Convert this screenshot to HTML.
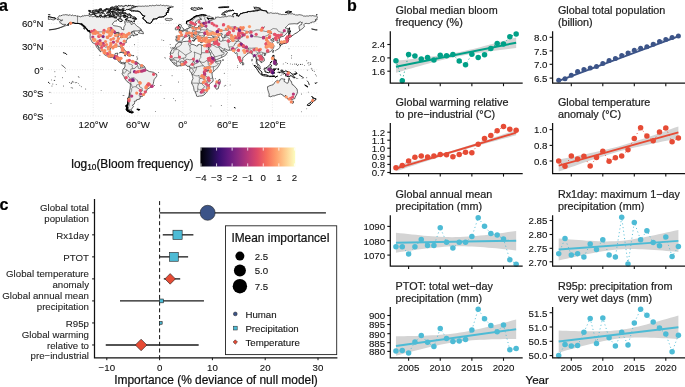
<!DOCTYPE html>
<html><head><meta charset="utf-8"><style>
html,body{margin:0;padding:0;background:#fff;}
svg{display:block;will-change:transform;}
text{font-family:"Liberation Sans", sans-serif;stroke:currentColor;stroke-width:0.22px;}
</style></head><body>
<svg width="685" height="387" viewBox="0 0 685 387">
<rect width="685" height="387" fill="#fff"/>
<polygon points="395.95,60.80 399.95,60.35 403.96,59.90 407.97,59.44 411.97,58.98 415.98,58.51 419.99,58.04 424.00,57.56 428.00,57.06 432.01,56.55 436.02,56.02 440.02,55.46 444.03,54.86 448.04,54.22 452.05,53.52 456.05,52.75 460.06,51.92 464.07,51.04 468.07,50.12 472.08,49.16 476.09,48.17 480.10,47.16 484.10,46.12 488.11,45.07 492.12,44.01 496.12,42.94 500.13,41.86 504.14,40.78 508.14,39.69 512.15,38.60 516.16,37.50 516.16,47.90 512.15,48.41 508.14,48.92 504.14,49.44 500.13,49.96 496.12,50.49 492.12,51.03 488.11,51.57 484.10,52.13 480.10,52.70 476.09,53.29 472.08,53.91 468.07,54.56 464.07,55.24 460.06,55.97 456.05,56.75 452.05,57.59 448.04,58.49 444.03,59.46 440.02,60.47 436.02,61.52 432.01,62.59 428.00,63.69 424.00,64.80 419.99,65.92 415.98,67.05 411.97,68.19 407.97,69.34 403.96,70.49 399.95,71.64 395.95,72.80" fill="#d4d4d4"/>
<polyline points="395.95,60.70 402.27,80.70 408.60,54.60 414.93,56.00 421.25,59.10 427.58,57.60 433.91,60.10 440.24,55.20 446.56,55.80 452.89,54.60 459.22,61.10 465.54,64.80 471.87,54.20 478.20,57.60 484.52,54.80 490.85,48.40 497.18,43.50 503.50,43.90 509.83,36.80 516.16,34.10" fill="none" stroke="#00A087" stroke-width="0.9" stroke-dasharray="0.3 3.4" stroke-linecap="round"/>
<line x1="395.95" y1="66.8" x2="516.16" y2="42.7" stroke="#00A087" stroke-width="1.9"/>
<circle cx="395.95" cy="60.7" r="2.75" fill="#00A087"/>
<circle cx="402.27" cy="80.7" r="2.75" fill="#00A087"/>
<circle cx="408.60" cy="54.6" r="2.75" fill="#00A087"/>
<circle cx="414.93" cy="56.0" r="2.75" fill="#00A087"/>
<circle cx="421.25" cy="59.1" r="2.75" fill="#00A087"/>
<circle cx="427.58" cy="57.6" r="2.75" fill="#00A087"/>
<circle cx="433.91" cy="60.1" r="2.75" fill="#00A087"/>
<circle cx="440.24" cy="55.2" r="2.75" fill="#00A087"/>
<circle cx="446.56" cy="55.8" r="2.75" fill="#00A087"/>
<circle cx="452.89" cy="54.6" r="2.75" fill="#00A087"/>
<circle cx="459.22" cy="61.1" r="2.75" fill="#00A087"/>
<circle cx="465.54" cy="64.8" r="2.75" fill="#00A087"/>
<circle cx="471.87" cy="54.2" r="2.75" fill="#00A087"/>
<circle cx="478.20" cy="57.6" r="2.75" fill="#00A087"/>
<circle cx="484.52" cy="54.8" r="2.75" fill="#00A087"/>
<circle cx="490.85" cy="48.4" r="2.75" fill="#00A087"/>
<circle cx="497.18" cy="43.5" r="2.75" fill="#00A087"/>
<circle cx="503.50" cy="43.9" r="2.75" fill="#00A087"/>
<circle cx="509.83" cy="36.8" r="2.75" fill="#00A087"/>
<circle cx="516.16" cy="34.1" r="2.75" fill="#00A087"/>
<path d="M390.3,31.3 V83.2 H522.7" fill="none" stroke="#111" stroke-width="1.25"/>
<line x1="387.3" y1="44.5" x2="390.3" y2="44.5" stroke="#111" stroke-width="1.1"/>
<text transform="translate(385.10 48.30) scale(1 1.0)" font-size="9.7" text-anchor="end" fill="#111" color="#111" style="stroke-width:0.1px" >2.4</text>
<line x1="387.3" y1="57.9" x2="390.3" y2="57.9" stroke="#111" stroke-width="1.1"/>
<text transform="translate(385.10 61.70) scale(1 1.0)" font-size="9.7" text-anchor="end" fill="#111" color="#111" style="stroke-width:0.1px" >2.0</text>
<line x1="387.3" y1="71.2" x2="390.3" y2="71.2" stroke="#111" stroke-width="1.1"/>
<text transform="translate(385.10 75.00) scale(1 1.0)" font-size="9.7" text-anchor="end" fill="#111" color="#111" style="stroke-width:0.1px" >1.6</text>
<line x1="408.60" y1="83.2" x2="408.60" y2="86.2" stroke="#111" stroke-width="1.1"/>
<line x1="440.24" y1="83.2" x2="440.24" y2="86.2" stroke="#111" stroke-width="1.1"/>
<line x1="471.87" y1="83.2" x2="471.87" y2="86.2" stroke="#111" stroke-width="1.1"/>
<line x1="503.50" y1="83.2" x2="503.50" y2="86.2" stroke="#111" stroke-width="1.1"/>
<text x="395.60" y="14.30" font-size="10.8" text-anchor="start" fill="#1e1e1e" color="#1e1e1e" font-weight="normal" >Global median bloom</text>
<text x="395.60" y="26.10" font-size="10.8" text-anchor="start" fill="#1e1e1e" color="#1e1e1e" font-weight="normal" >frequency (%)</text>
<polygon points="558.70,80.00 562.69,78.56 566.68,77.11 570.67,75.67 574.66,74.22 578.65,72.77 582.64,71.32 586.63,69.87 590.62,68.42 594.61,66.96 598.60,65.50 602.59,64.04 606.58,62.58 610.57,61.11 614.56,59.63 618.55,58.15 622.54,56.66 626.53,55.17 630.52,53.68 634.51,52.18 638.50,50.67 642.49,49.16 646.48,47.65 650.47,46.14 654.46,44.62 658.45,43.11 662.44,41.59 666.43,40.07 670.42,38.55 674.41,37.02 678.40,35.50 678.40,37.10 674.41,38.54 670.42,39.99 666.43,41.43 662.44,42.88 658.45,44.33 654.46,45.78 650.47,47.23 646.48,48.68 642.49,50.14 638.50,51.60 634.51,53.06 630.52,54.52 626.53,55.99 622.54,57.47 618.55,58.95 614.56,60.44 610.57,61.93 606.58,63.42 602.59,64.92 598.60,66.43 594.61,67.94 590.62,69.45 586.63,70.96 582.64,72.48 578.65,73.99 574.66,75.51 570.67,77.03 566.68,78.55 562.69,80.08 558.70,81.60" fill="#d4d4d4"/>
<polyline points="558.70,80.20 565.00,78.80 571.30,75.30 577.60,71.60 583.90,69.40 590.20,68.00 596.50,66.40 602.80,63.50 609.10,60.50 615.40,58.50 621.70,55.60 628.00,53.00 634.30,50.30 640.60,48.30 646.90,46.70 653.20,44.20 659.50,41.40 665.80,39.40 672.10,37.50 678.40,35.90" fill="none" stroke="#3C5488" stroke-width="0.9" stroke-dasharray="0.3 3.4" stroke-linecap="round"/>
<line x1="558.70" y1="80.8" x2="678.40" y2="36.3" stroke="#3C5488" stroke-width="1.9"/>
<circle cx="558.70" cy="80.2" r="2.5" fill="#3C5488"/>
<circle cx="565.00" cy="78.8" r="2.5" fill="#3C5488"/>
<circle cx="571.30" cy="75.3" r="2.5" fill="#3C5488"/>
<circle cx="577.60" cy="71.6" r="2.5" fill="#3C5488"/>
<circle cx="583.90" cy="69.4" r="2.5" fill="#3C5488"/>
<circle cx="590.20" cy="68.0" r="2.5" fill="#3C5488"/>
<circle cx="596.50" cy="66.4" r="2.5" fill="#3C5488"/>
<circle cx="602.80" cy="63.5" r="2.5" fill="#3C5488"/>
<circle cx="609.10" cy="60.5" r="2.5" fill="#3C5488"/>
<circle cx="615.40" cy="58.5" r="2.5" fill="#3C5488"/>
<circle cx="621.70" cy="55.6" r="2.5" fill="#3C5488"/>
<circle cx="628.00" cy="53.0" r="2.5" fill="#3C5488"/>
<circle cx="634.30" cy="50.3" r="2.5" fill="#3C5488"/>
<circle cx="640.60" cy="48.3" r="2.5" fill="#3C5488"/>
<circle cx="646.90" cy="46.7" r="2.5" fill="#3C5488"/>
<circle cx="653.20" cy="44.2" r="2.5" fill="#3C5488"/>
<circle cx="659.50" cy="41.4" r="2.5" fill="#3C5488"/>
<circle cx="665.80" cy="39.4" r="2.5" fill="#3C5488"/>
<circle cx="672.10" cy="37.5" r="2.5" fill="#3C5488"/>
<circle cx="678.40" cy="35.9" r="2.5" fill="#3C5488"/>
<path d="M552.6,31.3 V83.2 H685.5" fill="none" stroke="#111" stroke-width="1.25"/>
<line x1="549.6" y1="37.3" x2="552.6" y2="37.3" stroke="#111" stroke-width="1.1"/>
<text transform="translate(547.40 41.10) scale(1 1.0)" font-size="9.7" text-anchor="end" fill="#111" color="#111" style="stroke-width:0.1px" >8.0</text>
<line x1="549.6" y1="50.9" x2="552.6" y2="50.9" stroke="#111" stroke-width="1.1"/>
<text transform="translate(547.40 54.70) scale(1 1.0)" font-size="9.7" text-anchor="end" fill="#111" color="#111" style="stroke-width:0.1px" >7.5</text>
<line x1="549.6" y1="64.3" x2="552.6" y2="64.3" stroke="#111" stroke-width="1.1"/>
<text transform="translate(547.40 68.10) scale(1 1.0)" font-size="9.7" text-anchor="end" fill="#111" color="#111" style="stroke-width:0.1px" >7.0</text>
<line x1="549.6" y1="78.1" x2="552.6" y2="78.1" stroke="#111" stroke-width="1.1"/>
<text transform="translate(547.40 81.90) scale(1 1.0)" font-size="9.7" text-anchor="end" fill="#111" color="#111" style="stroke-width:0.1px" >6.5</text>
<line x1="571.30" y1="83.2" x2="571.30" y2="86.2" stroke="#111" stroke-width="1.1"/>
<line x1="602.80" y1="83.2" x2="602.80" y2="86.2" stroke="#111" stroke-width="1.1"/>
<line x1="634.30" y1="83.2" x2="634.30" y2="86.2" stroke="#111" stroke-width="1.1"/>
<line x1="665.80" y1="83.2" x2="665.80" y2="86.2" stroke="#111" stroke-width="1.1"/>
<text x="557.90" y="14.30" font-size="10.8" text-anchor="start" fill="#1e1e1e" color="#1e1e1e" font-weight="normal" >Global total population</text>
<text x="557.90" y="26.10" font-size="10.8" text-anchor="start" fill="#1e1e1e" color="#1e1e1e" font-weight="normal" >(billion)</text>
<polygon points="395.95,166.10 399.95,165.04 403.96,163.97 407.97,162.90 411.97,161.83 415.98,160.75 419.99,159.67 424.00,158.58 428.00,157.49 432.01,156.39 436.02,155.27 440.02,154.15 444.03,153.01 448.04,151.86 452.05,150.69 456.05,149.50 460.06,148.29 464.07,147.06 468.07,145.81 472.08,144.55 476.09,143.27 480.10,141.99 484.10,140.69 488.11,139.38 492.12,138.07 496.12,136.75 500.13,135.43 504.14,134.10 508.14,132.77 512.15,131.44 516.16,130.10 516.16,135.30 512.15,136.36 508.14,137.43 504.14,138.50 500.13,139.57 496.12,140.65 492.12,141.73 488.11,142.82 484.10,143.91 480.10,145.01 476.09,146.13 472.08,147.25 468.07,148.39 464.07,149.54 460.06,150.71 456.05,151.90 452.05,153.11 448.04,154.34 444.03,155.59 440.02,156.85 436.02,158.13 432.01,159.41 428.00,160.71 424.00,162.02 419.99,163.33 415.98,164.65 411.97,165.97 407.97,167.30 403.96,168.63 399.95,169.96 395.95,171.30" fill="#d4d4d4"/>
<polyline points="395.95,167.70 402.27,165.40 408.60,160.90 414.93,157.20 421.25,156.00 427.58,157.00 433.91,156.00 440.24,154.60 446.56,154.80 452.89,156.80 459.22,154.40 465.54,152.30 471.87,152.70 478.20,144.20 484.52,138.40 490.85,135.40 497.18,130.70 503.50,126.60 509.83,129.20 516.16,130.30" fill="none" stroke="#E64B35" stroke-width="0.9" stroke-dasharray="0.3 3.4" stroke-linecap="round"/>
<line x1="395.95" y1="168.7" x2="516.16" y2="132.7" stroke="#E64B35" stroke-width="1.9"/>
<circle cx="395.95" cy="167.7" r="2.75" fill="#E64B35"/>
<circle cx="402.27" cy="165.4" r="2.75" fill="#E64B35"/>
<circle cx="408.60" cy="160.9" r="2.75" fill="#E64B35"/>
<circle cx="414.93" cy="157.2" r="2.75" fill="#E64B35"/>
<circle cx="421.25" cy="156.0" r="2.75" fill="#E64B35"/>
<circle cx="427.58" cy="157.0" r="2.75" fill="#E64B35"/>
<circle cx="433.91" cy="156.0" r="2.75" fill="#E64B35"/>
<circle cx="440.24" cy="154.6" r="2.75" fill="#E64B35"/>
<circle cx="446.56" cy="154.8" r="2.75" fill="#E64B35"/>
<circle cx="452.89" cy="156.8" r="2.75" fill="#E64B35"/>
<circle cx="459.22" cy="154.4" r="2.75" fill="#E64B35"/>
<circle cx="465.54" cy="152.3" r="2.75" fill="#E64B35"/>
<circle cx="471.87" cy="152.7" r="2.75" fill="#E64B35"/>
<circle cx="478.20" cy="144.2" r="2.75" fill="#E64B35"/>
<circle cx="484.52" cy="138.4" r="2.75" fill="#E64B35"/>
<circle cx="490.85" cy="135.4" r="2.75" fill="#E64B35"/>
<circle cx="497.18" cy="130.7" r="2.75" fill="#E64B35"/>
<circle cx="503.50" cy="126.6" r="2.75" fill="#E64B35"/>
<circle cx="509.83" cy="129.2" r="2.75" fill="#E64B35"/>
<circle cx="516.16" cy="130.3" r="2.75" fill="#E64B35"/>
<path d="M390.3,123.1 V173.6 H522.7" fill="none" stroke="#111" stroke-width="1.25"/>
<line x1="387.3" y1="132.2" x2="390.3" y2="132.2" stroke="#111" stroke-width="1.1"/>
<text transform="translate(385.10 136.00) scale(1 1.0)" font-size="9.7" text-anchor="end" fill="#111" color="#111" style="stroke-width:0.1px" >1.2</text>
<line x1="387.3" y1="140.2" x2="390.3" y2="140.2" stroke="#111" stroke-width="1.1"/>
<text transform="translate(385.10 144.00) scale(1 1.0)" font-size="9.7" text-anchor="end" fill="#111" color="#111" style="stroke-width:0.1px" >1.1</text>
<line x1="387.3" y1="148.2" x2="390.3" y2="148.2" stroke="#111" stroke-width="1.1"/>
<text transform="translate(385.10 152.00) scale(1 1.0)" font-size="9.7" text-anchor="end" fill="#111" color="#111" style="stroke-width:0.1px" >1.0</text>
<line x1="387.3" y1="156.3" x2="390.3" y2="156.3" stroke="#111" stroke-width="1.1"/>
<text transform="translate(385.10 160.10) scale(1 1.0)" font-size="9.7" text-anchor="end" fill="#111" color="#111" style="stroke-width:0.1px" >0.9</text>
<line x1="387.3" y1="164.4" x2="390.3" y2="164.4" stroke="#111" stroke-width="1.1"/>
<text transform="translate(385.10 168.20) scale(1 1.0)" font-size="9.7" text-anchor="end" fill="#111" color="#111" style="stroke-width:0.1px" >0.8</text>
<line x1="387.3" y1="172.5" x2="390.3" y2="172.5" stroke="#111" stroke-width="1.1"/>
<text transform="translate(385.10 176.30) scale(1 1.0)" font-size="9.7" text-anchor="end" fill="#111" color="#111" style="stroke-width:0.1px" >0.7</text>
<line x1="408.60" y1="173.6" x2="408.60" y2="176.6" stroke="#111" stroke-width="1.1"/>
<line x1="440.24" y1="173.6" x2="440.24" y2="176.6" stroke="#111" stroke-width="1.1"/>
<line x1="471.87" y1="173.6" x2="471.87" y2="176.6" stroke="#111" stroke-width="1.1"/>
<line x1="503.50" y1="173.6" x2="503.50" y2="176.6" stroke="#111" stroke-width="1.1"/>
<text x="395.60" y="106.10" font-size="10.8" text-anchor="start" fill="#1e1e1e" color="#1e1e1e" font-weight="normal" >Global warming relative</text>
<text x="395.60" y="117.90" font-size="10.8" text-anchor="start" fill="#1e1e1e" color="#1e1e1e" font-weight="normal" >to pre−industrial (°C)</text>
<polygon points="558.70,159.60 562.69,158.82 566.68,158.03 570.67,157.23 574.66,156.43 578.65,155.62 582.64,154.80 586.63,153.97 590.62,153.12 594.61,152.26 598.60,151.37 602.59,150.45 606.58,149.50 610.57,148.52 614.56,147.48 618.55,146.40 622.54,145.27 626.53,144.09 630.52,142.86 634.51,141.60 638.50,140.30 642.49,138.98 646.48,137.63 650.47,136.26 654.46,134.88 658.45,133.49 662.44,132.08 666.43,130.67 670.42,129.25 674.41,127.83 678.40,126.40 678.40,138.40 674.41,139.18 670.42,139.97 666.43,140.77 662.44,141.57 658.45,142.38 654.46,143.20 650.47,144.03 646.48,144.88 642.49,145.74 638.50,146.63 634.51,147.55 630.52,148.50 626.53,149.48 622.54,150.52 618.55,151.60 614.56,152.73 610.57,153.91 606.58,155.14 602.59,156.40 598.60,157.70 594.61,159.02 590.62,160.37 586.63,161.74 582.64,163.12 578.65,164.51 574.66,165.92 570.67,167.33 566.68,168.75 562.69,170.17 558.70,171.60" fill="#d4d4d4"/>
<polyline points="558.70,161.00 565.00,166.30 571.30,155.90 577.60,159.10 583.90,156.30 590.20,166.10 596.50,157.50 602.80,151.20 609.10,161.20 615.40,157.70 621.70,155.90 628.00,149.80 634.30,138.40 640.60,127.70 646.90,136.10 653.20,140.70 659.50,131.90 665.80,127.90 672.10,141.70 678.40,137.90" fill="none" stroke="#E64B35" stroke-width="0.9" stroke-dasharray="0.3 3.4" stroke-linecap="round"/>
<line x1="558.70" y1="165.6" x2="678.40" y2="132.4" stroke="#E64B35" stroke-width="1.9"/>
<circle cx="558.70" cy="161.0" r="2.75" fill="#E64B35"/>
<circle cx="565.00" cy="166.3" r="2.75" fill="#E64B35"/>
<circle cx="571.30" cy="155.9" r="2.75" fill="#E64B35"/>
<circle cx="577.60" cy="159.1" r="2.75" fill="#E64B35"/>
<circle cx="583.90" cy="156.3" r="2.75" fill="#E64B35"/>
<circle cx="590.20" cy="166.1" r="2.75" fill="#E64B35"/>
<circle cx="596.50" cy="157.5" r="2.75" fill="#E64B35"/>
<circle cx="602.80" cy="151.2" r="2.75" fill="#E64B35"/>
<circle cx="609.10" cy="161.2" r="2.75" fill="#E64B35"/>
<circle cx="615.40" cy="157.7" r="2.75" fill="#E64B35"/>
<circle cx="621.70" cy="155.9" r="2.75" fill="#E64B35"/>
<circle cx="628.00" cy="149.8" r="2.75" fill="#E64B35"/>
<circle cx="634.30" cy="138.4" r="2.75" fill="#E64B35"/>
<circle cx="640.60" cy="127.7" r="2.75" fill="#E64B35"/>
<circle cx="646.90" cy="136.1" r="2.75" fill="#E64B35"/>
<circle cx="653.20" cy="140.7" r="2.75" fill="#E64B35"/>
<circle cx="659.50" cy="131.9" r="2.75" fill="#E64B35"/>
<circle cx="665.80" cy="127.9" r="2.75" fill="#E64B35"/>
<circle cx="672.10" cy="141.7" r="2.75" fill="#E64B35"/>
<circle cx="678.40" cy="137.9" r="2.75" fill="#E64B35"/>
<path d="M552.6,123.1 V173.6 H685.5" fill="none" stroke="#111" stroke-width="1.25"/>
<line x1="549.6" y1="129.6" x2="552.6" y2="129.6" stroke="#111" stroke-width="1.1"/>
<text transform="translate(547.40 133.40) scale(1 1.0)" font-size="9.7" text-anchor="end" fill="#111" color="#111" style="stroke-width:0.1px" >1.0</text>
<line x1="549.6" y1="145.4" x2="552.6" y2="145.4" stroke="#111" stroke-width="1.1"/>
<text transform="translate(547.40 149.20) scale(1 1.0)" font-size="9.7" text-anchor="end" fill="#111" color="#111" style="stroke-width:0.1px" >0.8</text>
<line x1="549.6" y1="161.0" x2="552.6" y2="161.0" stroke="#111" stroke-width="1.1"/>
<text transform="translate(547.40 164.80) scale(1 1.0)" font-size="9.7" text-anchor="end" fill="#111" color="#111" style="stroke-width:0.1px" >0.6</text>
<line x1="571.30" y1="173.6" x2="571.30" y2="176.6" stroke="#111" stroke-width="1.1"/>
<line x1="602.80" y1="173.6" x2="602.80" y2="176.6" stroke="#111" stroke-width="1.1"/>
<line x1="634.30" y1="173.6" x2="634.30" y2="176.6" stroke="#111" stroke-width="1.1"/>
<line x1="665.80" y1="173.6" x2="665.80" y2="176.6" stroke="#111" stroke-width="1.1"/>
<text x="557.90" y="106.10" font-size="10.8" text-anchor="start" fill="#1e1e1e" color="#1e1e1e" font-weight="normal" >Global temperature</text>
<text x="557.90" y="117.90" font-size="10.8" text-anchor="start" fill="#1e1e1e" color="#1e1e1e" font-weight="normal" >anomaly (°C)</text>
<polygon points="395.95,232.70 399.95,233.16 403.96,233.60 407.97,234.04 411.97,234.46 415.98,234.87 419.99,235.26 424.00,235.63 428.00,235.98 432.01,236.29 436.02,236.56 440.02,236.79 444.03,236.97 448.04,237.08 452.05,237.13 456.05,237.10 460.06,237.00 464.07,236.83 468.07,236.59 472.08,236.30 476.09,235.96 480.10,235.57 484.10,235.15 488.11,234.69 492.12,234.21 496.12,233.71 500.13,233.20 504.14,232.66 508.14,232.12 512.15,231.56 516.16,231.00 516.16,250.40 512.15,249.97 508.14,249.55 504.14,249.14 500.13,248.74 496.12,248.35 492.12,247.99 488.11,247.64 484.10,247.32 480.10,247.03 476.09,246.78 472.08,246.57 468.07,246.41 464.07,246.31 460.06,246.27 456.05,246.30 452.05,246.40 448.04,246.58 444.03,246.83 440.02,247.14 436.02,247.50 432.01,247.91 428.00,248.36 424.00,248.84 419.99,249.34 415.98,249.86 411.97,250.41 407.97,250.96 403.96,251.53 399.95,252.11 395.95,252.70" fill="#d4d4d4"/>
<polyline points="395.95,246.80 402.27,246.80 408.60,253.90 414.93,246.80 421.25,239.60 427.58,245.40 433.91,245.40 440.24,227.80 446.56,242.30 452.89,248.00 459.22,242.30 465.54,242.30 471.87,236.60 478.20,217.80 484.52,226.30 490.85,233.50 497.18,235.10 503.50,239.00 509.83,259.70 516.16,264.20" fill="none" stroke="#4DBBD5" stroke-width="0.9" stroke-dasharray="0.3 3.4" stroke-linecap="round"/>
<line x1="395.95" y1="242.7" x2="516.16" y2="240.7" stroke="#4DBBD5" stroke-width="1.9"/>
<circle cx="395.95" cy="246.8" r="2.75" fill="#4DBBD5"/>
<circle cx="402.27" cy="246.8" r="2.75" fill="#4DBBD5"/>
<circle cx="408.60" cy="253.9" r="2.75" fill="#4DBBD5"/>
<circle cx="414.93" cy="246.8" r="2.75" fill="#4DBBD5"/>
<circle cx="421.25" cy="239.6" r="2.75" fill="#4DBBD5"/>
<circle cx="427.58" cy="245.4" r="2.75" fill="#4DBBD5"/>
<circle cx="433.91" cy="245.4" r="2.75" fill="#4DBBD5"/>
<circle cx="440.24" cy="227.8" r="2.75" fill="#4DBBD5"/>
<circle cx="446.56" cy="242.3" r="2.75" fill="#4DBBD5"/>
<circle cx="452.89" cy="248.0" r="2.75" fill="#4DBBD5"/>
<circle cx="459.22" cy="242.3" r="2.75" fill="#4DBBD5"/>
<circle cx="465.54" cy="242.3" r="2.75" fill="#4DBBD5"/>
<circle cx="471.87" cy="236.6" r="2.75" fill="#4DBBD5"/>
<circle cx="478.20" cy="217.8" r="2.75" fill="#4DBBD5"/>
<circle cx="484.52" cy="226.3" r="2.75" fill="#4DBBD5"/>
<circle cx="490.85" cy="233.5" r="2.75" fill="#4DBBD5"/>
<circle cx="497.18" cy="235.1" r="2.75" fill="#4DBBD5"/>
<circle cx="503.50" cy="239.0" r="2.75" fill="#4DBBD5"/>
<circle cx="509.83" cy="259.7" r="2.75" fill="#4DBBD5"/>
<circle cx="516.16" cy="264.2" r="2.75" fill="#4DBBD5"/>
<path d="M390.3,215.3 V266.0 H522.7" fill="none" stroke="#111" stroke-width="1.25"/>
<line x1="387.3" y1="226.4" x2="390.3" y2="226.4" stroke="#111" stroke-width="1.1"/>
<text transform="translate(385.10 230.20) scale(1 1.0)" font-size="9.7" text-anchor="end" fill="#111" color="#111" style="stroke-width:0.1px" >1090</text>
<line x1="387.3" y1="240.7" x2="390.3" y2="240.7" stroke="#111" stroke-width="1.1"/>
<text transform="translate(385.10 244.50) scale(1 1.0)" font-size="9.7" text-anchor="end" fill="#111" color="#111" style="stroke-width:0.1px" >1080</text>
<line x1="387.3" y1="255.1" x2="390.3" y2="255.1" stroke="#111" stroke-width="1.1"/>
<text transform="translate(385.10 258.90) scale(1 1.0)" font-size="9.7" text-anchor="end" fill="#111" color="#111" style="stroke-width:0.1px" >1070</text>
<line x1="408.60" y1="266.0" x2="408.60" y2="269.0" stroke="#111" stroke-width="1.1"/>
<line x1="440.24" y1="266.0" x2="440.24" y2="269.0" stroke="#111" stroke-width="1.1"/>
<line x1="471.87" y1="266.0" x2="471.87" y2="269.0" stroke="#111" stroke-width="1.1"/>
<line x1="503.50" y1="266.0" x2="503.50" y2="269.0" stroke="#111" stroke-width="1.1"/>
<text x="395.60" y="198.30" font-size="10.8" text-anchor="start" fill="#1e1e1e" color="#1e1e1e" font-weight="normal" >Global annual mean</text>
<text x="395.60" y="210.10" font-size="10.8" text-anchor="start" fill="#1e1e1e" color="#1e1e1e" font-weight="normal" >precipitation (mm)</text>
<polygon points="558.70,238.50 562.69,238.84 566.68,239.17 570.67,239.49 574.66,239.80 578.65,240.09 582.64,240.37 586.63,240.63 590.62,240.87 594.61,241.07 598.60,241.24 602.59,241.35 606.58,241.39 610.57,241.36 614.56,241.23 618.55,241.00 622.54,240.66 626.53,240.21 630.52,239.67 634.51,239.05 638.50,238.37 642.49,237.63 646.48,236.86 650.47,236.05 654.46,235.21 658.45,234.36 662.44,233.49 666.43,232.61 670.42,231.71 674.41,230.81 678.40,229.90 678.40,251.90 674.41,251.56 670.42,251.23 666.43,250.91 662.44,250.60 658.45,250.31 654.46,250.03 650.47,249.77 646.48,249.53 642.49,249.33 638.50,249.16 634.51,249.05 630.52,249.01 626.53,249.04 622.54,249.17 618.55,249.40 614.56,249.74 610.57,250.19 606.58,250.73 602.59,251.35 598.60,252.03 594.61,252.77 590.62,253.54 586.63,254.35 582.64,255.19 578.65,256.04 574.66,256.91 570.67,257.79 566.68,258.69 562.69,259.59 558.70,260.50" fill="#d4d4d4"/>
<polyline points="558.70,253.70 565.00,238.50 571.30,254.90 577.60,253.70 583.90,256.90 590.20,243.90 596.50,249.50 602.80,239.70 609.10,254.90 615.40,256.90 621.70,217.30 628.00,264.00 634.30,222.50 640.60,239.70 646.90,230.80 653.20,242.60 659.50,245.80 665.80,237.00 672.10,256.40 678.40,246.60" fill="none" stroke="#4DBBD5" stroke-width="0.9" stroke-dasharray="0.3 3.4" stroke-linecap="round"/>
<line x1="558.70" y1="249.5" x2="678.40" y2="240.9" stroke="#4DBBD5" stroke-width="1.9"/>
<circle cx="558.70" cy="253.7" r="2.75" fill="#4DBBD5"/>
<circle cx="565.00" cy="238.5" r="2.75" fill="#4DBBD5"/>
<circle cx="571.30" cy="254.9" r="2.75" fill="#4DBBD5"/>
<circle cx="577.60" cy="253.7" r="2.75" fill="#4DBBD5"/>
<circle cx="583.90" cy="256.9" r="2.75" fill="#4DBBD5"/>
<circle cx="590.20" cy="243.9" r="2.75" fill="#4DBBD5"/>
<circle cx="596.50" cy="249.5" r="2.75" fill="#4DBBD5"/>
<circle cx="602.80" cy="239.7" r="2.75" fill="#4DBBD5"/>
<circle cx="609.10" cy="254.9" r="2.75" fill="#4DBBD5"/>
<circle cx="615.40" cy="256.9" r="2.75" fill="#4DBBD5"/>
<circle cx="621.70" cy="217.3" r="2.75" fill="#4DBBD5"/>
<circle cx="628.00" cy="264.0" r="2.75" fill="#4DBBD5"/>
<circle cx="634.30" cy="222.5" r="2.75" fill="#4DBBD5"/>
<circle cx="640.60" cy="239.7" r="2.75" fill="#4DBBD5"/>
<circle cx="646.90" cy="230.8" r="2.75" fill="#4DBBD5"/>
<circle cx="653.20" cy="242.6" r="2.75" fill="#4DBBD5"/>
<circle cx="659.50" cy="245.8" r="2.75" fill="#4DBBD5"/>
<circle cx="665.80" cy="237.0" r="2.75" fill="#4DBBD5"/>
<circle cx="672.10" cy="256.4" r="2.75" fill="#4DBBD5"/>
<circle cx="678.40" cy="246.6" r="2.75" fill="#4DBBD5"/>
<path d="M552.6,215.3 V266.0 H685.5" fill="none" stroke="#111" stroke-width="1.25"/>
<line x1="549.6" y1="220.5" x2="552.6" y2="220.5" stroke="#111" stroke-width="1.1"/>
<text transform="translate(547.40 224.30) scale(1 1.0)" font-size="9.7" text-anchor="end" fill="#111" color="#111" style="stroke-width:0.1px" >2.85</text>
<line x1="549.6" y1="234.5" x2="552.6" y2="234.5" stroke="#111" stroke-width="1.1"/>
<text transform="translate(547.40 238.30) scale(1 1.0)" font-size="9.7" text-anchor="end" fill="#111" color="#111" style="stroke-width:0.1px" >2.80</text>
<line x1="549.6" y1="248.3" x2="552.6" y2="248.3" stroke="#111" stroke-width="1.1"/>
<text transform="translate(547.40 252.10) scale(1 1.0)" font-size="9.7" text-anchor="end" fill="#111" color="#111" style="stroke-width:0.1px" >2.75</text>
<line x1="549.6" y1="261.8" x2="552.6" y2="261.8" stroke="#111" stroke-width="1.1"/>
<text transform="translate(547.40 265.60) scale(1 1.0)" font-size="9.7" text-anchor="end" fill="#111" color="#111" style="stroke-width:0.1px" >2.70</text>
<line x1="571.30" y1="266.0" x2="571.30" y2="269.0" stroke="#111" stroke-width="1.1"/>
<line x1="602.80" y1="266.0" x2="602.80" y2="269.0" stroke="#111" stroke-width="1.1"/>
<line x1="634.30" y1="266.0" x2="634.30" y2="269.0" stroke="#111" stroke-width="1.1"/>
<line x1="665.80" y1="266.0" x2="665.80" y2="269.0" stroke="#111" stroke-width="1.1"/>
<text x="557.90" y="198.30" font-size="10.8" text-anchor="start" fill="#1e1e1e" color="#1e1e1e" font-weight="normal" >Rx1day: maximum 1−day</text>
<text x="557.90" y="210.10" font-size="10.8" text-anchor="start" fill="#1e1e1e" color="#1e1e1e" font-weight="normal" >precipitation (mm)</text>
<polygon points="395.95,336.30 399.95,336.25 403.96,336.19 407.97,336.12 411.97,336.04 415.98,335.95 419.99,335.84 424.00,335.71 428.00,335.55 432.01,335.36 436.02,335.14 440.02,334.87 444.03,334.55 448.04,334.17 452.05,333.72 456.05,333.20 460.06,332.60 464.07,331.93 468.07,331.19 472.08,330.39 476.09,329.54 480.10,328.64 484.10,327.71 488.11,326.75 492.12,325.76 496.12,324.75 500.13,323.72 504.14,322.68 508.14,321.63 512.15,320.57 516.16,319.50 516.16,338.90 512.15,338.95 508.14,339.01 504.14,339.08 500.13,339.16 496.12,339.25 492.12,339.36 488.11,339.49 484.10,339.65 480.10,339.84 476.09,340.06 472.08,340.33 468.07,340.65 464.07,341.03 460.06,341.48 456.05,342.00 452.05,342.60 448.04,343.27 444.03,344.01 440.02,344.81 436.02,345.66 432.01,346.56 428.00,347.49 424.00,348.45 419.99,349.44 415.98,350.45 411.97,351.48 407.97,352.52 403.96,353.57 399.95,354.63 395.95,355.70" fill="#d4d4d4"/>
<polyline points="395.95,351.10 402.27,350.50 408.60,353.10 414.93,341.90 421.25,335.40 427.58,342.30 433.91,346.60 440.24,328.60 446.56,338.40 452.89,341.50 459.22,340.90 465.54,339.40 471.87,330.00 478.20,309.20 484.52,318.80 490.85,325.50 497.18,331.70 503.50,325.10 509.83,349.70 516.16,348.60" fill="none" stroke="#4DBBD5" stroke-width="0.9" stroke-dasharray="0.3 3.4" stroke-linecap="round"/>
<line x1="395.95" y1="346.0" x2="516.16" y2="329.2" stroke="#4DBBD5" stroke-width="1.9"/>
<circle cx="395.95" cy="351.1" r="2.75" fill="#4DBBD5"/>
<circle cx="402.27" cy="350.5" r="2.75" fill="#4DBBD5"/>
<circle cx="408.60" cy="353.1" r="2.75" fill="#4DBBD5"/>
<circle cx="414.93" cy="341.9" r="2.75" fill="#4DBBD5"/>
<circle cx="421.25" cy="335.4" r="2.75" fill="#4DBBD5"/>
<circle cx="427.58" cy="342.3" r="2.75" fill="#4DBBD5"/>
<circle cx="433.91" cy="346.6" r="2.75" fill="#4DBBD5"/>
<circle cx="440.24" cy="328.6" r="2.75" fill="#4DBBD5"/>
<circle cx="446.56" cy="338.4" r="2.75" fill="#4DBBD5"/>
<circle cx="452.89" cy="341.5" r="2.75" fill="#4DBBD5"/>
<circle cx="459.22" cy="340.9" r="2.75" fill="#4DBBD5"/>
<circle cx="465.54" cy="339.4" r="2.75" fill="#4DBBD5"/>
<circle cx="471.87" cy="330.0" r="2.75" fill="#4DBBD5"/>
<circle cx="478.20" cy="309.2" r="2.75" fill="#4DBBD5"/>
<circle cx="484.52" cy="318.8" r="2.75" fill="#4DBBD5"/>
<circle cx="490.85" cy="325.5" r="2.75" fill="#4DBBD5"/>
<circle cx="497.18" cy="331.7" r="2.75" fill="#4DBBD5"/>
<circle cx="503.50" cy="325.1" r="2.75" fill="#4DBBD5"/>
<circle cx="509.83" cy="349.7" r="2.75" fill="#4DBBD5"/>
<circle cx="516.16" cy="348.6" r="2.75" fill="#4DBBD5"/>
<path d="M390.3,307.0 V357.8 H522.7" fill="none" stroke="#111" stroke-width="1.25"/>
<line x1="387.3" y1="315.5" x2="390.3" y2="315.5" stroke="#111" stroke-width="1.1"/>
<text transform="translate(385.10 319.30) scale(1 1.0)" font-size="9.7" text-anchor="end" fill="#111" color="#111" style="stroke-width:0.1px" >900</text>
<line x1="387.3" y1="324.5" x2="390.3" y2="324.5" stroke="#111" stroke-width="1.1"/>
<text transform="translate(385.10 328.30) scale(1 1.0)" font-size="9.7" text-anchor="end" fill="#111" color="#111" style="stroke-width:0.1px" >895</text>
<line x1="387.3" y1="333.7" x2="390.3" y2="333.7" stroke="#111" stroke-width="1.1"/>
<text transform="translate(385.10 337.50) scale(1 1.0)" font-size="9.7" text-anchor="end" fill="#111" color="#111" style="stroke-width:0.1px" >890</text>
<line x1="387.3" y1="342.7" x2="390.3" y2="342.7" stroke="#111" stroke-width="1.1"/>
<text transform="translate(385.10 346.50) scale(1 1.0)" font-size="9.7" text-anchor="end" fill="#111" color="#111" style="stroke-width:0.1px" >885</text>
<line x1="387.3" y1="351.4" x2="390.3" y2="351.4" stroke="#111" stroke-width="1.1"/>
<text transform="translate(385.10 355.20) scale(1 1.0)" font-size="9.7" text-anchor="end" fill="#111" color="#111" style="stroke-width:0.1px" >880</text>
<line x1="408.60" y1="357.8" x2="408.60" y2="360.8" stroke="#111" stroke-width="1.1"/>
<text transform="translate(408.60 370.80) scale(1 1.0)" font-size="9.7" text-anchor="middle" fill="#111" color="#111" style="stroke-width:0.1px" >2005</text>
<line x1="440.24" y1="357.8" x2="440.24" y2="360.8" stroke="#111" stroke-width="1.1"/>
<text transform="translate(440.24 370.80) scale(1 1.0)" font-size="9.7" text-anchor="middle" fill="#111" color="#111" style="stroke-width:0.1px" >2010</text>
<line x1="471.87" y1="357.8" x2="471.87" y2="360.8" stroke="#111" stroke-width="1.1"/>
<text transform="translate(471.87 370.80) scale(1 1.0)" font-size="9.7" text-anchor="middle" fill="#111" color="#111" style="stroke-width:0.1px" >2015</text>
<line x1="503.50" y1="357.8" x2="503.50" y2="360.8" stroke="#111" stroke-width="1.1"/>
<text transform="translate(503.50 370.80) scale(1 1.0)" font-size="9.7" text-anchor="middle" fill="#111" color="#111" style="stroke-width:0.1px" >2020</text>
<text x="395.60" y="290.00" font-size="10.8" text-anchor="start" fill="#1e1e1e" color="#1e1e1e" font-weight="normal" >PTOT: total wet−day</text>
<text x="395.60" y="301.80" font-size="10.8" text-anchor="start" fill="#1e1e1e" color="#1e1e1e" font-weight="normal" >precipitation (mm)</text>
<polygon points="558.70,330.50 562.69,330.65 566.68,330.79 570.67,330.92 574.66,331.04 578.65,331.14 582.64,331.23 586.63,331.30 590.62,331.35 594.61,331.36 598.60,331.34 602.59,331.26 606.58,331.11 610.57,330.89 614.56,330.57 618.55,330.15 622.54,329.61 626.53,328.95 630.52,328.19 634.51,327.33 638.50,326.41 642.49,325.43 646.48,324.41 650.47,323.36 654.46,322.28 658.45,321.18 662.44,320.06 666.43,318.94 670.42,317.80 674.41,316.65 678.40,315.50 678.40,338.90 674.41,338.70 670.42,338.51 666.43,338.32 662.44,338.15 658.45,337.99 654.46,337.84 650.47,337.72 646.48,337.62 642.49,337.55 638.50,337.52 634.51,337.55 630.52,337.65 626.53,337.84 622.54,338.14 618.55,338.55 614.56,339.08 610.57,339.72 606.58,340.45 602.59,341.26 598.60,342.13 594.61,343.06 590.62,344.02 586.63,345.02 582.64,346.05 578.65,347.09 574.66,348.15 570.67,349.22 566.68,350.31 562.69,351.40 558.70,352.50" fill="#d4d4d4"/>
<polyline points="558.70,355.60 565.00,344.60 571.30,346.00 577.60,345.60 583.90,332.30 590.20,318.40 596.50,343.50 602.80,318.00 609.10,337.80 615.40,346.00 621.70,332.30 628.00,345.00 634.30,322.90 640.60,309.20 646.90,315.30 653.20,321.90 659.50,328.00 665.80,334.10 672.10,351.70 678.40,335.20" fill="none" stroke="#4DBBD5" stroke-width="0.9" stroke-dasharray="0.3 3.4" stroke-linecap="round"/>
<line x1="558.70" y1="341.5" x2="678.40" y2="327.2" stroke="#4DBBD5" stroke-width="1.9"/>
<circle cx="558.70" cy="355.6" r="2.75" fill="#4DBBD5"/>
<circle cx="565.00" cy="344.6" r="2.75" fill="#4DBBD5"/>
<circle cx="571.30" cy="346.0" r="2.75" fill="#4DBBD5"/>
<circle cx="577.60" cy="345.6" r="2.75" fill="#4DBBD5"/>
<circle cx="583.90" cy="332.3" r="2.75" fill="#4DBBD5"/>
<circle cx="590.20" cy="318.4" r="2.75" fill="#4DBBD5"/>
<circle cx="596.50" cy="343.5" r="2.75" fill="#4DBBD5"/>
<circle cx="602.80" cy="318.0" r="2.75" fill="#4DBBD5"/>
<circle cx="609.10" cy="337.8" r="2.75" fill="#4DBBD5"/>
<circle cx="615.40" cy="346.0" r="2.75" fill="#4DBBD5"/>
<circle cx="621.70" cy="332.3" r="2.75" fill="#4DBBD5"/>
<circle cx="628.00" cy="345.0" r="2.75" fill="#4DBBD5"/>
<circle cx="634.30" cy="322.9" r="2.75" fill="#4DBBD5"/>
<circle cx="640.60" cy="309.2" r="2.75" fill="#4DBBD5"/>
<circle cx="646.90" cy="315.3" r="2.75" fill="#4DBBD5"/>
<circle cx="653.20" cy="321.9" r="2.75" fill="#4DBBD5"/>
<circle cx="659.50" cy="328.0" r="2.75" fill="#4DBBD5"/>
<circle cx="665.80" cy="334.1" r="2.75" fill="#4DBBD5"/>
<circle cx="672.10" cy="351.7" r="2.75" fill="#4DBBD5"/>
<circle cx="678.40" cy="335.2" r="2.75" fill="#4DBBD5"/>
<path d="M552.6,307.0 V357.8 H685.5" fill="none" stroke="#111" stroke-width="1.25"/>
<line x1="549.6" y1="312.7" x2="552.6" y2="312.7" stroke="#111" stroke-width="1.1"/>
<text transform="translate(547.40 316.50) scale(1 1.0)" font-size="9.7" text-anchor="end" fill="#111" color="#111" style="stroke-width:0.1px" >51.5</text>
<line x1="549.6" y1="327.0" x2="552.6" y2="327.0" stroke="#111" stroke-width="1.1"/>
<text transform="translate(547.40 330.80) scale(1 1.0)" font-size="9.7" text-anchor="end" fill="#111" color="#111" style="stroke-width:0.1px" >51.0</text>
<line x1="549.6" y1="341.3" x2="552.6" y2="341.3" stroke="#111" stroke-width="1.1"/>
<text transform="translate(547.40 345.10) scale(1 1.0)" font-size="9.7" text-anchor="end" fill="#111" color="#111" style="stroke-width:0.1px" >50.5</text>
<line x1="549.6" y1="355.6" x2="552.6" y2="355.6" stroke="#111" stroke-width="1.1"/>
<text transform="translate(547.40 359.40) scale(1 1.0)" font-size="9.7" text-anchor="end" fill="#111" color="#111" style="stroke-width:0.1px" >50.0</text>
<line x1="571.30" y1="357.8" x2="571.30" y2="360.8" stroke="#111" stroke-width="1.1"/>
<text transform="translate(571.30 370.80) scale(1 1.0)" font-size="9.7" text-anchor="middle" fill="#111" color="#111" style="stroke-width:0.1px" >2005</text>
<line x1="602.80" y1="357.8" x2="602.80" y2="360.8" stroke="#111" stroke-width="1.1"/>
<text transform="translate(602.80 370.80) scale(1 1.0)" font-size="9.7" text-anchor="middle" fill="#111" color="#111" style="stroke-width:0.1px" >2010</text>
<line x1="634.30" y1="357.8" x2="634.30" y2="360.8" stroke="#111" stroke-width="1.1"/>
<text transform="translate(634.30 370.80) scale(1 1.0)" font-size="9.7" text-anchor="middle" fill="#111" color="#111" style="stroke-width:0.1px" >2015</text>
<line x1="665.80" y1="357.8" x2="665.80" y2="360.8" stroke="#111" stroke-width="1.1"/>
<text transform="translate(665.80 370.80) scale(1 1.0)" font-size="9.7" text-anchor="middle" fill="#111" color="#111" style="stroke-width:0.1px" >2020</text>
<text x="557.90" y="290.00" font-size="10.8" text-anchor="start" fill="#1e1e1e" color="#1e1e1e" font-weight="normal" >R95p: precipitation from</text>
<text x="557.90" y="301.80" font-size="10.8" text-anchor="start" fill="#1e1e1e" color="#1e1e1e" font-weight="normal" >very wet days (mm)</text>
<text x="525.50" y="384.00" font-size="11.6" text-anchor="start" fill="#111" color="#111" font-weight="normal" >Year</text>
<rect x="225.5" y="225.8" width="111.2" height="128.8" fill="#fff" stroke="#222" stroke-width="0.9"/>
<line x1="159.6" y1="198.9" x2="159.6" y2="357.8" stroke="#111" stroke-width="1" stroke-dasharray="4 2.7" stroke-dashoffset="-2.2"/>
<path d="M94.5,198.9 V357.8 H337.4" fill="none" stroke="#111" stroke-width="1.25"/>
<line x1="106.80" y1="357.8" x2="106.80" y2="360.2" stroke="#111" stroke-width="1"/>
<text transform="translate(106.80 371.10) scale(1 1.0)" font-size="9.7" text-anchor="middle" fill="#111" color="#111" style="stroke-width:0.1px" >−10</text>
<line x1="159.60" y1="357.8" x2="159.60" y2="360.2" stroke="#111" stroke-width="1"/>
<text transform="translate(159.60 371.10) scale(1 1.0)" font-size="9.7" text-anchor="middle" fill="#111" color="#111" style="stroke-width:0.1px" >0</text>
<line x1="212.40" y1="357.8" x2="212.40" y2="360.2" stroke="#111" stroke-width="1"/>
<text transform="translate(212.40 371.10) scale(1 1.0)" font-size="9.7" text-anchor="middle" fill="#111" color="#111" style="stroke-width:0.1px" >10</text>
<line x1="265.20" y1="357.8" x2="265.20" y2="360.2" stroke="#111" stroke-width="1"/>
<text transform="translate(265.20 371.10) scale(1 1.0)" font-size="9.7" text-anchor="middle" fill="#111" color="#111" style="stroke-width:0.1px" >20</text>
<line x1="318.00" y1="357.8" x2="318.00" y2="360.2" stroke="#111" stroke-width="1"/>
<text transform="translate(318.00 371.10) scale(1 1.0)" font-size="9.7" text-anchor="middle" fill="#111" color="#111" style="stroke-width:0.1px" >30</text>
<text x="216.00" y="384.00" font-size="11.95" text-anchor="middle" fill="#111" color="#111" font-weight="normal" >Importance (% deviance of null model)</text>
<line x1="92.1" y1="212.80" x2="94.5" y2="212.80" stroke="#111" stroke-width="1"/>
<text transform="translate(89.00 211.30) scale(1 1.0)" font-size="9.7" text-anchor="end" fill="#1e1e1e" color="#1e1e1e" style="stroke-width:0.1px" >Global total</text>
<text transform="translate(89.00 221.90) scale(1 1.0)" font-size="9.7" text-anchor="end" fill="#1e1e1e" color="#1e1e1e" style="stroke-width:0.1px" >population</text>
<line x1="92.1" y1="234.83" x2="94.5" y2="234.83" stroke="#111" stroke-width="1"/>
<text transform="translate(89.00 238.63) scale(1 1.0)" font-size="9.7" text-anchor="end" fill="#1e1e1e" color="#1e1e1e" style="stroke-width:0.1px" >Rx1day</text>
<line x1="92.1" y1="256.86" x2="94.5" y2="256.86" stroke="#111" stroke-width="1"/>
<text transform="translate(89.00 260.66) scale(1 1.0)" font-size="9.7" text-anchor="end" fill="#1e1e1e" color="#1e1e1e" style="stroke-width:0.1px" >PTOT</text>
<line x1="92.1" y1="278.89" x2="94.5" y2="278.89" stroke="#111" stroke-width="1"/>
<text transform="translate(89.00 277.39) scale(1 1.0)" font-size="9.7" text-anchor="end" fill="#1e1e1e" color="#1e1e1e" style="stroke-width:0.1px" >Global temperature</text>
<text transform="translate(89.00 287.99) scale(1 1.0)" font-size="9.7" text-anchor="end" fill="#1e1e1e" color="#1e1e1e" style="stroke-width:0.1px" >anomaly</text>
<line x1="92.1" y1="300.92" x2="94.5" y2="300.92" stroke="#111" stroke-width="1"/>
<text transform="translate(89.00 299.42) scale(1 1.0)" font-size="9.7" text-anchor="end" fill="#1e1e1e" color="#1e1e1e" style="stroke-width:0.1px" >Global annual mean</text>
<text transform="translate(89.00 310.02) scale(1 1.0)" font-size="9.7" text-anchor="end" fill="#1e1e1e" color="#1e1e1e" style="stroke-width:0.1px" >precipitation</text>
<line x1="92.1" y1="322.95" x2="94.5" y2="322.95" stroke="#111" stroke-width="1"/>
<text transform="translate(89.00 326.75) scale(1 1.0)" font-size="9.7" text-anchor="end" fill="#1e1e1e" color="#1e1e1e" style="stroke-width:0.1px" >R95p</text>
<line x1="92.1" y1="344.98" x2="94.5" y2="344.98" stroke="#111" stroke-width="1"/>
<text transform="translate(89.00 338.18) scale(1 1.0)" font-size="9.7" text-anchor="end" fill="#1e1e1e" color="#1e1e1e" style="stroke-width:0.1px" >Global warming</text>
<text transform="translate(89.00 348.78) scale(1 1.0)" font-size="9.7" text-anchor="end" fill="#1e1e1e" color="#1e1e1e" style="stroke-width:0.1px" >relative to</text>
<text transform="translate(89.00 359.38) scale(1 1.0)" font-size="9.7" text-anchor="end" fill="#1e1e1e" color="#1e1e1e" style="stroke-width:0.1px" >pre−industrial</text>
<line x1="159.60" y1="212.80" x2="325.92" y2="212.80" stroke="#1a1a1a" stroke-width="1.3"/>
<circle cx="207.65" cy="212.80" r="7.5" fill="#3C5488" stroke="#222" stroke-width="0.6"/>
<line x1="162.77" y1="234.83" x2="193.39" y2="234.83" stroke="#1a1a1a" stroke-width="1.3"/>
<rect x="172.95" y="230.23" width="9.20" height="9.20" fill="#4DBBD5" stroke="#222" stroke-width="0.6"/>
<line x1="159.60" y1="256.86" x2="188.11" y2="256.86" stroke="#1a1a1a" stroke-width="1.3"/>
<rect x="169.46" y="252.46" width="8.80" height="8.80" fill="#4DBBD5" stroke="#222" stroke-width="0.6"/>
<line x1="163.82" y1="278.89" x2="180.19" y2="278.89" stroke="#1a1a1a" stroke-width="1.3"/>
<polygon points="164.86,278.89 170.16,273.59 175.46,278.89 170.16,284.19" fill="#E64B35" stroke="#222" stroke-width="0.6"/>
<line x1="120.00" y1="300.92" x2="203.95" y2="300.92" stroke="#1a1a1a" stroke-width="1.3"/>
<rect x="159.55" y="299.02" width="3.80" height="3.80" fill="#4DBBD5" stroke="#222" stroke-width="0.6"/>
<line x1="160.13" y1="322.95" x2="162.24" y2="322.95" stroke="#1a1a1a" stroke-width="1.3"/>
<rect x="159.51" y="321.65" width="2.60" height="2.60" fill="#4DBBD5" stroke="#222" stroke-width="0.6"/>
<line x1="105.74" y1="344.98" x2="198.67" y2="344.98" stroke="#1a1a1a" stroke-width="1.3"/>
<polygon points="135.32,344.98 141.12,339.18 146.92,344.98 141.12,350.78" fill="#E64B35" stroke="#222" stroke-width="0.6"/>
<text x="231.40" y="242.00" font-size="11.9" text-anchor="start" fill="#111" color="#111" font-weight="normal" >IMean importanceI</text>
<circle cx="239.9" cy="256.1" r="4.5" fill="#000"/>
<text transform="translate(254.70 259.90) scale(1 1.0)" font-size="9.7" text-anchor="start" fill="#111" color="#111" style="stroke-width:0.1px" >2.5</text>
<circle cx="239.9" cy="270.6" r="6.0" fill="#000"/>
<text transform="translate(254.70 274.40) scale(1 1.0)" font-size="9.7" text-anchor="start" fill="#111" color="#111" style="stroke-width:0.1px" >5.0</text>
<circle cx="239.9" cy="286.2" r="7.2" fill="#000"/>
<text transform="translate(254.70 290.00) scale(1 1.0)" font-size="9.7" text-anchor="start" fill="#111" color="#111" style="stroke-width:0.1px" >7.5</text>
<circle cx="235.3" cy="313.9" r="1.9" fill="#3C5488" stroke="#222" stroke-width="0.5"/>
<rect x="233.4" y="326.2" width="3.8" height="3.8" fill="#4DBBD5" stroke="#222" stroke-width="0.5"/>
<polygon points="233.1,342 235.3,339.8 237.5,342 235.3,344.2" fill="#E64B35" stroke="#222" stroke-width="0.5"/>
<text transform="translate(245.40 317.80) scale(1 1.0)" font-size="9.7" text-anchor="start" fill="#111" color="#111" style="stroke-width:0.1px" >Human</text>
<text transform="translate(245.40 332.00) scale(1 1.0)" font-size="9.7" text-anchor="start" fill="#111" color="#111" style="stroke-width:0.1px" >Precipitation</text>
<text transform="translate(245.40 345.90) scale(1 1.0)" font-size="9.7" text-anchor="start" fill="#111" color="#111" style="stroke-width:0.1px" >Temperature</text>
<line x1="48.4" y1="23.38" x2="317.2" y2="23.38" stroke="#dadada" stroke-width="0.6" stroke-dasharray="1 1.6"/>
<line x1="48.4" y1="46.54" x2="317.2" y2="46.54" stroke="#dadada" stroke-width="0.6" stroke-dasharray="1 1.6"/>
<line x1="48.4" y1="69.70" x2="317.2" y2="69.70" stroke="#dadada" stroke-width="0.6" stroke-dasharray="1 1.6"/>
<line x1="48.4" y1="92.86" x2="317.2" y2="92.86" stroke="#dadada" stroke-width="0.6" stroke-dasharray="1 1.6"/>
<line x1="48.4" y1="116.02" x2="317.2" y2="116.02" stroke="#dadada" stroke-width="0.6" stroke-dasharray="1 1.6"/>
<line x1="93.20" y1="0.3" x2="93.20" y2="116" stroke="#dadada" stroke-width="0.6" stroke-dasharray="1 1.6"/>
<line x1="138.00" y1="0.3" x2="138.00" y2="116" stroke="#dadada" stroke-width="0.6" stroke-dasharray="1 1.6"/>
<line x1="182.80" y1="0.3" x2="182.80" y2="116" stroke="#dadada" stroke-width="0.6" stroke-dasharray="1 1.6"/>
<line x1="227.60" y1="0.3" x2="227.60" y2="116" stroke="#dadada" stroke-width="0.6" stroke-dasharray="1 1.6"/>
<line x1="272.40" y1="0.3" x2="272.40" y2="116" stroke="#dadada" stroke-width="0.6" stroke-dasharray="1 1.6"/>
<g fill="#efefef" stroke="#000" stroke-width="0.6" stroke-linejoin="round">
<polygon points="57.35,19.06 58.45,18.67 57.73,17.65 58.19,17.05 58.85,16.51 59.19,15.66 60.55,16.04 61.09,15.43 61.94,15.60 62.55,14.89 63.35,14.85 64.24,15.15 64.88,14.56 65.72,14.66 66.41,14.86 67.21,14.47 67.78,15.36 68.52,15.31 69.30,15.04 70.13,14.63 70.76,15.37 71.49,15.57 72.35,14.98 73.06,15.27 73.71,15.94 74.53,15.58 75.29,15.62 76.07,15.57 76.68,16.28 77.52,15.97 78.30,15.88 78.91,16.62 79.71,16.45 80.40,16.85 81.25,16.43 82.10,16.66 82.57,15.59 83.49,16.05 84.26,16.06 84.84,15.23 85.75,15.80 86.44,15.48 87.22,15.51 88.13,15.21 88.79,15.59 89.30,16.44 90.21,16.12 90.97,16.07 91.72,16.07 92.40,16.68 93.13,16.84 94.00,15.94 94.69,16.44 95.44,16.51 96.09,17.00 96.91,16.80 97.59,17.20 98.42,16.97 99.18,16.62 99.92,17.00 100.65,17.51 101.42,16.64 102.16,17.05 102.86,17.59 103.63,17.40 104.35,17.75 105.14,17.20 105.89,16.91 106.64,17.68 107.38,17.17 108.13,17.71 108.88,17.23 109.62,17.20 110.30,16.85 111.10,16.90 111.86,16.82 112.20,15.98 112.39,15.13 112.61,14.27 113.09,14.78 113.86,15.06 113.76,16.00 114.85,16.05 115.59,16.23 116.23,16.67 117.24,16.07 118.02,16.13 118.58,16.82 119.56,17.14 120.26,16.86 120.72,16.00 121.57,16.05 121.33,16.67 119.96,16.87 120.82,17.92 120.08,18.36 119.76,19.24 118.51,19.05 117.69,19.35 117.09,19.91 116.55,20.43 116.39,21.25 114.93,21.02 114.36,21.51 113.98,22.16 113.36,22.61 112.80,23.38 112.24,24.15 112.73,24.67 113.23,25.18 113.73,25.70 114.40,25.77 115.07,25.85 115.75,25.93 116.42,26.00 117.09,26.08 117.77,26.27 118.46,26.47 119.14,26.66 119.83,26.85 120.51,27.05 121.20,27.24 121.38,28.20 121.57,29.17 122.32,29.43 123.06,29.68 123.81,29.94 123.81,29.04 123.81,28.14 123.81,27.24 124.18,26.56 124.56,25.89 124.93,25.21 125.30,24.54 125.12,23.80 124.93,23.07 124.74,22.34 124.56,21.60 125.26,22.03 126.07,21.54 126.79,21.78 127.51,22.09 128.29,21.84 129.04,22.09 129.78,22.35 130.53,22.61 130.90,23.57 131.28,24.54 132.02,24.19 132.77,23.84 133.52,23.50 134.26,23.15 134.79,23.74 135.31,24.32 135.83,24.91 136.36,25.50 136.88,26.08 137.48,26.47 138.07,26.85 138.67,27.24 139.27,27.63 139.86,28.01 140.54,28.75 141.21,29.48 140.24,30.02 139.49,30.33 138.74,30.64 138.00,30.95 137.25,30.95 136.50,30.95 135.76,30.95 135.01,30.95 134.08,31.02 133.14,31.10 132.40,31.56 131.65,32.03 130.90,32.49 131.58,32.34 132.25,32.18 132.92,32.03 133.59,31.87 134.26,31.72 134.86,32.26 134.26,32.80 134.64,33.80 135.29,34.00 135.94,34.19 136.60,34.38 137.25,34.57 138.00,34.19 137.25,34.88 136.32,35.08 135.38,35.27 134.76,35.55 134.14,35.83 133.52,36.12 133.52,34.96 132.77,35.11 132.02,35.37 131.28,35.63 130.53,35.89 130.08,36.81 130.53,37.51 129.41,37.82 128.48,38.09 127.54,38.36 127.54,39.21 126.98,39.59 126.42,39.98 126.05,41.14 126.42,42.45 125.68,42.76 124.93,43.07 124.37,43.45 123.81,43.84 123.31,44.35 122.82,44.87 122.32,45.38 122.02,46.54 122.34,47.31 122.67,48.08 122.99,48.86 122.88,49.55 122.77,50.25 121.72,49.63 121.38,48.86 121.05,48.08 120.82,47.16 119.70,46.54 118.96,46.39 118.21,46.23 117.09,46.15 116.53,46.66 115.97,47.16 114.85,47.08 114.10,47.00 113.36,46.93 112.61,46.85 111.86,47.31 111.12,47.78 110.37,48.24 110.26,49.13 110.15,50.01 110.02,50.79 109.90,51.56 109.77,52.33 110.10,53.10 110.42,53.87 110.74,54.65 111.49,55.15 112.24,55.65 112.98,55.57 113.73,55.50 114.48,55.42 114.85,54.45 115.22,53.49 116.09,53.36 116.97,53.23 117.84,53.10 117.65,54.07 117.46,55.03 117.26,55.75 117.07,56.47 116.87,57.19 117.73,57.31 118.58,57.43 119.26,57.66 119.93,57.89 120.60,58.12 120.54,58.89 120.49,59.66 120.43,60.44 120.38,61.21 120.97,61.98 121.57,62.75 122.50,62.56 123.44,62.37 124.22,62.67 125.01,62.98 124.71,64.14 124.18,63.52 123.06,63.99 122.13,63.68 121.20,63.37 120.60,63.02 120.00,62.67 119.41,62.33 118.81,61.98 118.36,61.21 117.91,60.44 117.46,59.66 116.72,59.47 115.97,59.28 115.22,59.09 114.48,58.89 113.85,58.38 113.23,57.86 112.61,57.35 111.68,57.46 110.74,57.58 110.09,57.33 109.44,57.08 108.78,56.83 108.13,56.58 107.48,56.29 106.82,56.00 106.17,55.71 105.52,55.42 104.77,54.84 104.02,54.26 104.14,53.57 104.25,52.87 103.76,52.33 103.28,51.79 102.81,51.29 102.34,50.79 101.88,50.28 101.41,49.78 100.93,49.29 100.45,48.79 99.98,48.30 99.50,47.81 99.02,47.31 98.55,46.79 98.09,46.27 97.62,45.75 97.15,45.23 97.58,45.92 98.00,46.62 98.42,47.31 98.80,48.28 99.17,49.24 99.67,49.89 100.17,50.53 100.66,51.17 101.04,51.94 100.29,51.56 99.73,51.06 99.17,50.55 98.67,49.86 98.17,49.16 97.68,48.47 96.93,47.70 96.56,46.90 96.18,46.10 95.81,45.30 95.36,44.61 94.84,44.03 94.32,43.45 93.53,43.22 92.75,42.99 92.26,42.22 91.78,41.44 91.33,40.52 90.96,39.85 90.58,39.18 90.21,38.51 90.13,37.51 90.06,36.50 90.11,35.65 90.16,34.81 90.21,33.96 89.95,33.15 89.69,32.34 90.32,32.10 90.96,31.87 90.21,31.49 89.46,31.10 88.53,30.79 87.60,30.48 87.22,29.56 86.60,28.91 85.98,28.27 85.36,27.63 84.73,26.98 84.11,26.34 83.49,25.70 82.87,25.18 82.24,24.67 81.62,24.15 80.88,24.00 80.13,23.84 79.38,23.69 78.64,23.53 77.96,23.50 77.29,23.47 76.62,23.44 75.95,23.41 75.28,23.38 74.53,23.17 73.78,22.97 73.04,22.76 72.38,23.01 71.73,23.26 71.08,23.52 70.42,23.77 69.86,23.38 69.30,22.99 68.80,23.64 68.31,24.28 67.81,24.92 67.06,25.21 66.31,25.50 65.57,25.79 64.82,26.08 64.15,26.34 63.48,26.61 62.81,26.87 62.13,27.13 61.46,27.39 60.71,27.51 59.97,27.63 60.62,27.34 61.27,27.05 61.93,26.76 62.58,26.47 63.33,26.08 64.07,25.70 64.82,25.31 65.57,24.38 64.85,24.38 64.13,24.38 63.42,24.38 62.70,24.38 61.98,24.38 61.61,23.38 60.79,23.07 59.97,22.76 59.59,21.45 59.97,20.91 60.71,20.79 61.62,20.95 62.07,20.37 62.58,19.91 61.83,20.50 61.09,19.91 60.33,19.96 59.63,19.54 58.85,19.75 57.72,19.90"/>
<polygon points="134.64,21.84 133.84,21.31 133.14,21.91 132.25,22.26 131.63,21.97 131.28,21.04 130.46,21.23 129.78,21.06 129.09,20.66 128.13,20.61 127.54,20.06 126.61,20.43 125.90,19.28 124.93,19.83 126.22,20.12 126.04,18.63 127.25,18.82 127.92,18.36 128.29,17.20 127.36,17.29 127.51,15.92 126.39,16.26 125.68,16.05 124.94,16.31 124.41,15.48 123.53,16.50 122.87,16.35 122.32,15.66 121.62,14.90 120.87,14.87 120.07,15.63 119.28,16.21 118.58,15.51 117.78,15.12 117.01,14.67 115.97,14.89 115.99,13.90 115.60,12.96 116.41,13.65 117.13,13.31 117.85,12.94 118.58,12.80 119.33,12.81 120.08,13.22 120.82,13.22 121.57,13.24 122.32,12.87 123.06,12.80 123.65,13.35 124.19,13.97 125.56,13.00 126.05,13.73 126.85,13.93 127.67,14.08 128.00,15.02 129.49,14.13 129.78,15.12 130.75,14.76 131.05,16.05 132.02,15.66 132.77,16.43 133.32,17.05 134.53,16.90 135.27,17.30 135.76,17.98 136.50,18.36 136.60,19.31 135.27,19.03 135.32,19.94 134.26,19.91 134.26,20.68" stroke-width="0.95"/>
<polygon points="93.94,14.50 95.20,14.68 95.06,15.66 96.04,15.37 96.11,16.64 96.80,16.84 97.98,16.19 98.42,16.82 99.14,16.49 99.90,16.53 100.68,16.94 101.40,16.53 102.14,16.49 102.90,16.59 103.57,16.40 104.36,16.82 104.98,16.40 105.67,16.36 106.26,15.86 107.01,16.05 107.38,15.27 106.30,15.60 105.58,15.29 105.14,14.50 104.33,13.85 103.65,13.11 102.89,13.10 102.12,12.94 101.34,12.71 100.66,13.34 99.99,12.70 99.18,13.18 98.45,12.95 97.68,13.11 96.88,13.12 96.35,13.90 95.45,13.61 94.69,13.73" stroke-width="0.95"/>
<polygon points="89.09,14.12 89.38,14.74 90.21,14.89 90.94,14.72 91.70,14.66 92.82,14.42 93.67,14.21 94.32,13.73 94.76,13.21 95.44,12.88 94.45,12.78 93.57,12.42 92.86,11.91 92.12,11.81 91.30,12.67 90.58,12.26 89.46,12.96" stroke-width="0.95"/>
<polygon points="116.34,10.64 117.06,11.04 117.80,11.25 118.57,10.88 119.30,11.24 120.08,10.80 120.80,11.41 121.57,10.96 122.34,10.26 123.08,10.44 123.81,10.87 124.29,10.19 125.58,10.53 126.01,9.78 126.80,9.48 127.67,9.61 128.47,9.57 129.04,8.94 130.03,9.27 130.71,8.92 131.28,8.33 131.73,7.53 132.54,7.43 133.30,7.22 134.06,7.00 135.01,7.17 135.99,7.31 136.65,6.90 137.25,6.40 136.45,6.43 135.66,6.44 134.86,6.48 134.26,5.86 133.55,6.36 132.95,5.23 132.22,5.92 131.53,5.98 130.87,5.72 130.22,5.24 129.52,5.62 128.87,5.06 128.11,6.21 127.44,6.08 126.80,5.55 126.13,5.65 125.41,5.35 124.82,6.24 124.09,5.82 123.46,6.29 122.78,6.28 122.05,5.85 121.35,5.76 120.70,6.06 120.00,5.87 119.33,6.01 118.45,5.67 117.76,6.00 117.21,6.82 116.16,5.90 115.42,6.03 114.85,6.78 114.29,7.50 113.36,7.94 114.00,8.39 114.87,8.20 115.58,8.44 116.27,8.77 117.09,8.71 118.38,8.48 118.58,9.48 117.66,9.27 117.04,9.75 116.17,9.66 115.60,10.26" stroke-width="0.95"/>
<polygon points="123.06,12.19 122.35,12.33 121.63,12.47 120.91,12.53 120.19,12.71 119.48,12.45 118.76,12.67 118.06,11.56 117.34,12.09 116.62,12.68 115.91,12.31 115.19,12.61 114.48,12.11 114.03,11.47 113.19,11.72 112.65,11.28 111.86,11.41 112.58,11.11 113.31,10.81 114.10,10.64 114.88,11.22 115.61,10.95 116.36,10.85 117.06,10.04 117.82,10.20 118.60,10.93 119.33,10.49 120.13,10.18 120.76,11.06 121.59,10.53 122.25,11.19 123.06,10.80 123.06,11.80" stroke-width="0.95"/>
<polygon points="111.49,9.48 111.99,8.99 112.63,8.76 113.46,8.92 114.10,8.71 114.85,8.28 114.85,7.55 114.29,6.87 113.30,7.42 112.62,7.06 111.86,6.94 111.38,7.67 110.37,7.94 109.62,8.87 110.48,9.31" stroke-width="0.95"/>
<polygon points="95.44,11.18 96.11,11.55 96.78,11.92 97.74,11.58 98.24,12.37 99.17,12.11 99.91,12.02 100.68,12.15 101.47,12.43 102.16,11.89 102.96,12.35 103.65,11.80 104.02,11.03 103.12,10.69 102.16,10.49 101.35,10.08 100.61,10.16 99.91,10.58 99.17,10.72 98.39,11.03 97.71,10.24 96.96,10.30 96.18,10.56" stroke-width="0.95"/>
<polygon points="107.38,14.12 108.11,14.41 108.91,13.77 109.59,14.58 110.37,14.27 110.74,12.96 109.76,12.99 108.88,12.65 107.94,12.51 107.27,12.89 106.64,13.34" stroke-width="0.95"/>
<polygon points="111.86,14.12 112.62,14.02 113.39,13.97 114.10,13.73 114.85,12.73 114.13,12.35 113.33,12.99 112.65,12.15 111.86,12.57 112.61,13.34" stroke-width="0.95"/>
<polygon points="108.13,11.41 108.88,11.41 109.62,11.57 110.37,11.57 110.37,10.64 109.63,10.75 108.85,10.52 108.13,10.80" stroke-width="0.95"/>
<polygon points="91.70,11.03 92.44,11.16 93.21,11.18 94.01,10.99 94.69,11.41 95.34,10.97 95.93,10.48 96.56,10.02 95.89,10.14 95.18,9.87 94.54,10.17 93.88,10.31 93.20,10.26 92.63,10.84" stroke-width="0.95"/>
<polygon points="118.21,20.14 118.86,20.67 119.71,21.05 120.23,21.68 120.95,21.20 122.08,21.32 122.69,20.68 121.94,19.91 121.73,19.13 120.80,19.03 120.08,18.75 119.25,18.72 118.70,19.39 117.84,19.29" stroke-width="0.95"/>
<polygon points="138.45,32.95 140.61,33.34 141.73,33.57 143.45,33.72 143.52,32.95 142.78,32.03 142.78,31.33 141.36,31.10 141.36,29.86 140.01,30.64 139.12,31.87"/>
<polygon points="130.53,9.25 131.12,9.85 132.15,10.00 132.77,10.56 133.56,10.55 134.34,10.56 135.01,10.95 135.74,11.23 136.49,11.24 137.23,11.34 138.00,11.11 138.59,11.66 139.62,11.66 140.24,12.19 140.35,13.01 141.27,13.46 141.73,14.12 141.78,14.85 142.48,15.35 143.15,15.73 143.95,15.86 144.72,16.05 144.42,16.87 143.58,17.39 142.85,17.98 142.68,18.76 143.60,19.13 144.03,19.78 144.55,20.38 145.47,20.68 146.25,21.10 146.21,21.84 146.59,22.61 147.43,22.57 148.18,22.76 148.93,22.94 149.57,23.38 150.69,23.23 151.44,22.22 151.74,21.34 152.56,20.68 152.39,19.75 153.31,19.13 153.93,18.83 154.69,19.17 155.27,18.63 156.00,18.84 156.67,18.75 157.04,18.20 157.74,17.93 158.40,17.64 158.91,17.20 159.67,17.24 160.41,17.13 161.17,17.15 161.94,17.24 162.60,16.64 163.39,16.82 163.93,16.18 164.56,15.62 165.63,15.51 166.37,14.50 166.12,13.73 166.37,12.96 167.28,12.53 168.24,12.19 167.73,11.46 167.87,10.64 168.70,10.49 168.99,9.87 168.24,9.18 167.87,8.33 168.54,8.18 169.29,8.18 169.94,7.97 170.48,7.55 171.22,7.34 172.05,7.35 172.73,7.01 173.47,6.78 172.76,6.77 172.11,6.52 171.48,6.23 170.73,6.41 170.09,6.13 169.36,6.24 168.67,5.92 167.93,5.77 167.15,5.78 166.46,5.43 165.59,5.75 164.78,5.86 164.13,5.39 163.39,5.27 162.63,5.50 161.87,5.63 161.17,4.91 160.42,4.95 159.63,5.43 158.91,5.16 158.18,5.46 157.42,5.35 156.64,5.01 155.91,5.25 155.20,5.64 154.45,5.69 153.70,5.66 152.93,5.47 152.15,5.31 151.48,5.88 150.68,5.58 149.97,5.91 149.16,5.53 148.51,6.24 147.72,6.02 146.96,6.01 146.22,6.21 145.45,5.85 144.73,6.20 143.98,6.20 143.23,6.25 142.47,6.10 141.73,6.24 141.00,6.45 140.23,6.18 139.48,6.18 138.73,6.11 138.00,6.40 137.32,6.74 136.37,6.52 135.76,7.01 134.69,7.20 133.89,7.79 132.96,7.73 132.46,8.41 131.65,8.56"/>
<polygon points="164.88,19.13 165.55,18.69 166.37,18.44 167.13,18.30 167.87,18.50 168.61,18.55 169.36,18.59 170.11,18.63 170.84,18.24 171.60,18.52 172.64,19.37 171.60,20.06 170.79,20.17 170.00,20.32 169.36,20.76 168.65,20.51 167.90,20.40 167.12,20.45 165.85,20.29 165.50,19.64"/>
<polygon points="125.01,62.98 126.05,62.37 126.42,61.36 127.54,60.98 128.89,60.51 129.56,60.13 129.41,61.21 130.53,60.28 132.02,61.44 134.26,61.90 135.76,61.44 136.65,61.44 137.25,61.98 137.25,63.14 138.74,63.29 140.24,65.07 142.48,65.22 143.97,65.92 144.34,66.46 145.47,68.31 145.47,69.31 146.21,69.85 146.96,70.32 149.57,71.63 151.44,71.86 153.68,72.40 155.02,73.41 156.52,73.95 156.81,75.49 156.52,76.65 155.17,78.19 154.05,79.74 153.68,81.67 153.31,83.60 152.56,85.53 151.81,87.07 150.32,87.46 149.20,88.07 146.96,89.39 146.51,91.47 145.47,92.86 144.34,94.02 143.22,95.72 142.10,96.57 140.98,96.64 139.86,96.33 140.24,97.26 139.86,99.04 136.50,99.81 136.28,100.97 134.26,101.35 134.64,102.51 134.26,104.05 132.40,105.21 133.52,106.37 132.40,107.91 131.28,109.46 131.73,110.15 131.65,110.62 133.14,112.16 132.02,112.55 129.78,111.77 127.92,110.62 126.80,109.46 127.17,107.53 126.42,105.98 127.54,104.83 127.92,102.90 127.69,101.74 127.92,100.19 127.84,98.26 128.66,96.72 129.34,95.18 129.41,92.86 129.56,90.93 130.16,88.23 130.38,85.53 130.31,83.83 129.41,83.21 127.17,81.67 125.90,80.12 124.93,78.96 123.81,76.26 122.47,74.56 122.09,73.17 122.91,72.32 122.69,70.47 123.06,69.31 123.44,68.54 123.96,68.31 124.93,67.00 125.08,64.68 124.71,64.14"/>
<polygon points="178.39,42.06 181.31,42.60 183.55,41.52 186.53,41.29 189.15,41.21 190.49,40.90 191.09,41.06 190.64,41.91 190.94,42.29 190.27,43.30 191.16,44.07 194.15,44.76 196.61,46.15 197.73,45.85 197.81,44.84 199.60,44.38 201.47,45.15 204.45,45.85 206.84,45.54 208.34,45.54 208.86,46.93 208.41,48.24 208.04,48.55 209.31,51.17 210.58,53.49 210.80,55.42 211.62,56.19 212.29,57.73 213.79,59.05 215.06,60.05 215.13,60.82 216.03,61.67 218.27,61.05 221.03,60.59 220.88,61.59 219.76,64.30 218.64,66.23 217.15,68.16 215.28,70.09 213.79,71.24 212.67,72.40 212.07,73.56 212.15,75.10 212.52,77.42 213.04,78.58 213.12,81.28 210.43,83.21 208.93,85.14 209.31,86.68 209.31,88.23 207.44,89.39 207.37,90.16 207.07,91.70 205.95,92.86 205.20,93.86 203.71,95.18 201.92,95.95 199.23,96.10 197.73,96.57 196.54,96.10 196.39,94.79 195.12,91.78 194.15,90.54 193.63,87.46 192.88,85.53 191.61,83.21 191.91,80.89 193.03,78.58 192.66,76.65 191.91,74.33 191.61,73.02 189.89,71.40 189.52,70.09 189.89,68.93 190.12,67.38 189.37,66.23 187.28,66.38 186.16,64.84 184.29,64.84 182.05,65.69 180.56,65.84 179.07,65.69 177.20,66.30 175.71,65.53 174.21,64.37 172.94,63.14 171.60,61.36 170.33,60.05 169.73,58.35 170.48,57.35 170.70,55.03 170.11,53.49 170.85,51.56 171.97,49.63 173.09,48.24 175.33,46.93 175.56,45.38 176.45,43.99 177.72,43.30"/>
<polygon points="219.61,78.96 220.51,81.67 219.76,83.21 219.01,85.53 218.27,88.61 216.55,89.39 215.43,87.84 215.28,86.68 215.88,85.14 215.88,82.82 217.52,81.90 218.64,80.12"/>
<polygon points="178.62,41.91 177.95,41.21 177.20,40.98 176.15,41.14 176.23,39.82 175.71,39.75 175.97,39.09 176.23,38.43 176.23,37.28 175.86,36.50 176.83,35.96 177.57,36.02 178.32,36.08 179.07,36.14 179.81,36.20 180.63,36.20 181.46,36.20 181.83,35.35 181.90,34.03 181.16,33.26 180.30,32.99 179.44,32.72 179.29,32.26 180.56,32.03 181.61,32.18 181.38,31.33 182.05,31.56 182.95,31.33 183.92,30.95 184.14,30.33 185.04,30.10 185.94,29.56 186.38,28.78 187.13,28.59 187.88,28.40 189.15,28.24 189.30,27.24 188.85,26.85 188.92,25.85 189.78,25.50 190.64,25.16 190.64,26.08 190.94,26.47 190.27,27.24 191.01,27.86 192.13,27.63 192.77,27.86 193.40,28.09 194.26,27.86 195.12,27.63 195.90,27.59 196.69,27.55 197.44,27.70 198.03,27.36 198.63,27.01 198.48,25.85 199.60,25.16 200.27,25.35 200.94,25.54 200.72,24.69 200.35,24.00 201.02,23.95 201.69,23.90 202.36,23.86 203.04,23.81 203.71,23.77 204.83,23.38 204.00,23.63 203.42,22.80 202.59,23.07 201.93,23.33 201.16,22.96 200.59,23.68 199.82,23.38 199.62,22.68 198.70,22.61 198.27,21.81 198.85,21.06 199.39,20.56 199.92,20.05 200.48,19.57 201.47,19.52 201.77,19.13 201.08,18.86 200.34,18.86 199.60,18.90 199.22,19.53 198.48,19.91 197.60,20.14 196.99,20.68 196.23,21.00 195.87,21.60 195.33,22.24 195.49,22.99 196.61,23.53 196.12,24.25 195.62,24.98 195.12,25.70 194.75,26.31 194.11,26.55 193.48,26.78 192.36,26.93 192.13,26.08 191.76,25.50 191.39,24.92 191.01,24.15 190.64,23.92 190.02,24.23 189.40,24.54 188.77,24.85 188.03,24.77 187.28,24.69 186.91,24.15 186.25,23.45 186.53,22.61 186.68,21.45 187.21,20.92 187.94,20.72 188.77,20.68 189.69,20.48 190.27,19.91 190.60,19.24 191.50,19.13 192.13,18.75 193.12,18.21 193.63,17.36 194.75,16.82 195.52,16.38 196.24,15.89 197.01,15.82 197.83,15.95 198.48,15.51 199.21,15.28 200.02,15.26 200.70,14.93 201.47,14.81 202.23,14.50 202.97,14.75 203.71,14.89 204.43,15.14 205.31,14.97 205.95,15.43 206.97,15.43 207.44,16.12 208.31,16.23 209.25,15.99 210.05,16.43 210.60,17.04 211.40,17.20 212.16,17.43 213.04,17.44 213.41,18.36 212.60,18.89 211.55,18.75 210.78,18.82 210.03,18.76 209.34,18.35 208.56,18.44 207.82,18.20 207.07,17.98 207.98,18.27 207.86,19.24 208.79,19.52 209.38,20.21 210.43,20.37 211.29,20.56 211.93,20.08 212.67,19.91 213.24,19.34 214.13,19.21 214.96,18.99 215.65,18.59 215.65,17.78 215.65,16.97 216.34,17.33 217.15,17.20 218.13,16.94 219.01,17.36 219.78,17.39 220.54,17.41 221.28,17.27 221.96,16.80 222.75,16.97 223.52,17.03 224.24,16.82 225.08,16.45 226.00,16.84 226.86,16.66 227.64,16.32 228.35,15.89 229.05,16.28 229.89,15.70 230.62,15.85 231.33,16.16 232.08,16.20 232.82,16.86 233.95,16.97 233.46,16.33 233.08,15.63 232.46,15.04 232.78,14.30 233.33,13.71 234.32,13.42 235.07,13.31 235.71,13.74 236.39,14.00 237.16,13.73 237.49,14.75 236.79,15.66 237.57,15.45 238.05,16.18 238.80,16.05 239.30,15.33 239.82,14.61 240.30,13.88 240.74,13.30 241.80,13.75 242.45,13.51 242.91,12.96 243.58,12.57 244.39,12.65 245.16,12.60 245.83,12.23 246.62,12.24 247.39,12.19 247.76,11.65 248.48,11.42 249.29,11.68 250.06,11.73 250.82,11.71 251.52,11.39 252.22,11.07 253.01,11.20 253.74,11.03 254.50,11.07 255.21,10.78 255.95,10.64 256.71,10.65 257.47,10.64 258.34,10.55 258.96,9.94 259.77,9.72 260.68,9.72 261.52,9.70 261.95,10.26 262.78,10.09 263.34,10.88 264.23,10.51 264.90,10.89 265.66,10.98 266.43,11.03 266.82,11.66 266.77,12.46 267.55,12.96 268.22,13.15 268.89,12.58 269.57,13.09 270.24,12.64 270.91,12.96 271.68,12.89 272.38,13.25 273.13,13.33 273.91,13.19 274.64,13.34 275.36,13.09 276.16,13.27 276.96,13.39 277.63,12.96 278.11,13.74 279.12,14.12 279.95,13.97 280.67,14.20 281.36,14.50 282.11,14.80 282.86,14.24 283.60,14.44 284.35,14.63 285.10,14.20 285.84,14.79 286.59,14.50 287.34,13.73 288.07,14.07 288.82,13.90 289.59,13.62 290.33,13.80 291.07,13.87 291.82,13.88 292.67,13.73 293.28,14.27 294.13,14.13 294.81,14.50 295.36,15.10 296.30,14.97 297.04,14.73 297.80,15.20 298.53,14.80 299.28,14.64 300.03,14.89 300.81,14.90 301.54,15.09 302.27,15.27 302.87,15.63 303.39,16.05 304.07,15.84 304.76,16.12 305.45,16.21 306.13,15.95 306.81,15.97 307.50,15.97 308.31,16.16 308.99,15.74 309.74,15.66 310.48,15.72 311.21,15.99 311.99,15.59 312.74,15.57 313.47,15.81 314.18,16.07 315.05,15.79 315.71,16.20 316.59,15.99 317.21,16.51 317.42,17.26 317.08,18.01 316.90,18.77 317.21,19.52 316.38,19.37 315.66,19.60 314.97,19.91 316.00,20.21 316.09,21.06 315.26,20.92 314.89,21.75 314.14,21.77 313.50,22.02 312.73,21.99 311.76,22.06 311.31,22.79 310.32,22.83 309.74,23.38 308.99,23.52 308.25,23.61 307.50,23.55 306.75,23.38 305.82,23.46 304.89,23.53 304.33,24.23 303.77,24.92 304.14,25.62 304.51,26.31 303.77,27.39 303.02,28.09 302.27,28.78 301.71,29.17 301.15,29.56 300.48,29.94 299.81,30.33 299.55,29.56 299.29,28.78 299.19,28.01 299.09,27.24 298.99,26.47 299.43,25.77 299.88,25.08 300.70,24.81 301.53,24.54 301.77,23.77 301.98,22.99 302.27,22.22 301.51,22.50 300.79,21.97 300.04,21.90 299.29,22.14 299.16,22.94 297.83,23.16 297.79,24.00 297.05,23.92 296.30,23.84 295.55,23.77 294.81,23.69 294.06,23.74 293.31,23.78 292.56,23.83 291.82,23.87 291.07,23.92 290.32,24.00 289.58,24.07 288.83,24.15 288.27,24.73 287.71,25.31 287.19,25.85 286.67,26.39 286.14,26.93 285.62,27.47 285.10,28.01 285.84,28.15 286.59,28.28 287.34,28.42 288.08,28.55 287.90,29.44 287.71,30.33 287.59,31.10 287.46,31.87 287.34,32.64 286.84,33.16 286.34,33.67 285.84,34.19 285.22,34.81 284.60,35.42 283.98,36.04 283.04,36.35 282.11,36.66 281.36,36.77 280.62,36.89 280.13,37.47 279.65,38.05 279.57,39.01 279.50,39.98 279.42,40.94 279.35,41.91 279.12,42.60 278.19,42.87 277.26,43.14 277.15,42.33 277.03,41.52 277.33,40.60 276.14,40.36 275.95,39.67 275.76,38.97 274.94,38.70 274.12,38.43 273.71,39.09 273.30,39.75 273.23,38.97 273.15,38.20 272.40,38.82 271.66,39.44 270.69,39.67 271.28,40.75 271.66,40.98 272.78,40.52 273.52,40.75 274.27,40.98 273.52,41.44 272.78,41.91 271.88,42.68 272.33,43.45 272.78,44.22 273.26,44.73 273.75,45.23 273.82,45.92 273.90,46.69 273.71,47.39 273.52,48.08 272.96,48.74 272.40,49.40 272.03,50.25 271.28,50.90 270.54,51.56 269.79,51.87 269.04,52.18 268.30,52.48 267.36,52.68 266.43,52.87 265.31,53.33 264.94,54.03 264.64,53.10 263.44,53.10 262.47,53.72 262.10,54.38 261.73,55.03 262.32,56.19 262.82,56.70 263.32,57.22 263.82,57.73 264.12,58.70 264.41,59.66 264.34,60.82 263.52,61.25 262.70,61.67 262.02,62.37 261.35,63.06 261.05,61.83 260.38,61.52 259.71,61.21 259.19,60.28 258.22,59.90 257.47,59.28 257.27,60.05 257.07,60.82 256.87,61.59 257.32,62.75 257.69,63.91 258.44,64.45 259.11,64.91 259.56,65.57 260.01,66.23 260.05,66.92 260.08,67.62 260.61,68.62 260.08,68.70 259.26,68.12 258.44,67.54 258.07,66.77 257.69,65.99 257.62,64.68 256.95,64.10 256.28,63.52 256.24,62.75 256.20,61.98 256.31,61.21 256.42,60.44 256.29,59.74 256.16,59.05 256.02,58.35 255.89,57.66 255.75,56.96 254.48,56.58 253.85,56.96 253.21,57.35 253.21,56.38 253.21,55.42 252.73,54.92 252.24,54.41 251.94,53.76 251.65,53.10 251.35,52.33 250.38,52.72 249.26,52.95 248.51,53.02 247.76,53.10 247.61,53.87 246.94,54.34 246.27,54.80 245.63,55.42 245.00,56.04 244.25,56.58 243.51,57.12 242.69,58.12 242.72,58.89 242.76,59.66 242.57,60.44 242.39,61.21 241.94,61.75 241.19,62.83 240.67,63.45 239.92,62.75 239.66,61.79 239.40,60.82 238.99,60.05 238.58,59.28 238.28,58.56 237.98,57.84 237.68,57.12 237.51,56.42 237.33,55.73 237.16,55.03 237.12,54.18 237.09,53.33 236.79,52.72 236.04,53.10 235.29,53.49 234.81,52.95 234.32,52.41 233.95,51.56 233.05,50.79 232.46,50.09 231.52,50.13 230.59,50.17 229.66,50.25 228.72,50.32 227.98,50.19 227.23,50.07 226.48,49.94 226.00,49.40 225.51,48.86 224.84,48.70 224.17,48.93 223.50,49.16 222.87,48.86 222.25,48.55 221.63,48.24 221.07,47.58 220.51,46.93 219.84,46.73 219.16,46.54 218.64,46.93 219.01,47.51 219.39,48.08 219.76,48.66 220.14,49.24 220.73,50.40 221.26,50.01 221.26,51.02 222.19,51.02 223.12,51.02 223.87,50.32 224.62,49.63 224.84,50.40 225.21,51.17 225.96,51.37 226.71,51.56 227.45,52.48 226.97,53.18 226.48,53.87 225.88,55.03 225.21,55.47 224.54,55.91 223.87,56.34 223.17,56.68 222.47,57.01 221.78,57.35 220.98,57.73 220.18,58.12 219.39,58.51 218.64,58.83 217.89,59.16 217.15,59.49 216.40,59.82 215.21,59.90 214.98,59.20 214.76,58.51 214.68,57.73 214.61,56.96 214.21,56.19 213.81,55.42 213.41,54.65 212.92,54.13 212.42,53.62 211.92,53.10 211.73,52.33 211.55,51.56 211.05,50.91 210.55,50.27 210.05,49.63 209.49,48.86 208.93,48.08 208.86,46.93 208.60,46.23 208.34,45.54 208.64,44.88 208.93,44.22 209.27,43.45 209.61,42.68 209.68,41.52 208.56,41.29 207.81,41.56 207.07,41.83 206.32,41.75 205.57,41.68 204.83,41.48 204.08,41.29 203.18,40.75 202.59,39.98 202.36,39.21 202.59,38.59 202.44,38.13 201.58,38.20 200.72,38.28 199.97,38.59 199.68,38.82 200.20,39.44 199.90,40.36 200.12,40.75 199.60,41.60 199.00,41.29 198.56,40.52 198.70,39.98 197.88,39.21 197.29,38.43 197.36,37.43 196.61,36.89 195.87,36.50 195.12,36.12 194.15,35.50 193.25,34.96 193.03,34.42 191.98,34.73 192.06,35.50 192.96,36.12 193.48,37.28 194.75,37.66 195.37,38.00 195.99,38.33 196.61,38.67 195.49,38.43 195.12,39.36 195.57,39.59 194.82,40.36 194.45,40.36 194.60,39.21 193.85,38.59 192.99,38.13 192.13,37.66 191.57,37.28 191.01,36.89 190.42,35.81 189.15,35.50 188.40,35.89 187.28,36.43 186.16,36.12 185.11,36.50 185.19,37.35 184.33,37.70 183.47,38.05 182.80,39.05 182.58,39.98 182.20,40.67 181.31,41.37 180.37,41.37 179.44,41.37"/>
<polygon points="48.39,16.51 52.13,17.51 54.74,17.98 56.09,18.67 55.11,19.13 53.99,19.98 52.50,19.75 50.63,19.13 49.44,19.44 48.39,19.52"/>
<polygon points="178.54,31.02 180.56,30.64 182.05,30.48 183.85,30.17 184.07,29.09 183.02,28.55 182.65,27.86 181.61,26.78 180.93,26.24 181.46,25.23 180.34,24.46 179.07,24.46 178.54,25.31 178.69,26.24 179.07,27.09 180.56,27.32 180.26,28.01 180.56,28.55 179.37,28.94 179.66,29.79 178.84,29.79 180.56,30.10 179.59,30.17"/>
<polygon points="178.32,29.40 178.17,28.40 178.69,27.63 177.95,27.09 176.68,27.09 175.33,27.86 175.33,29.48 175.63,29.94 176.83,29.79"/>
<polygon points="280.54,43.45 281.74,42.37 284.35,42.14 285.47,41.14 286.96,39.98 287.34,38.43 288.38,37.74 288.83,39.21 288.08,41.14 287.94,42.14 287.19,42.68 286.44,42.99 285.10,43.07 283.98,43.84 283.60,42.91 282.11,43.14 280.62,43.45" stroke-width="0.95"/>
<polygon points="279.65,43.76 280.62,43.53 281.22,44.61 280.62,45.61 280.02,45.54 279.57,44.46" stroke-width="0.95"/>
<polygon points="281.74,43.53 282.86,43.22 283.38,43.61 282.11,44.38"/>
<polygon points="287.34,37.28 288.23,37.43 289.80,37.28 291.44,36.27 290.32,35.65 288.61,34.65 288.46,36.35 287.71,36.27" stroke-width="0.95"/>
<polygon points="288.83,34.19 289.95,33.80 289.58,31.49 290.70,31.87 289.58,29.56 289.58,27.78 289.06,28.01 288.83,30.33 288.68,32.64" stroke-width="0.95"/>
<polygon points="272.48,51.94 273.15,50.25 273.90,50.40 273.52,51.56 273.00,52.72"/>
<polygon points="263.89,54.88 264.94,54.18 265.68,54.57 265.16,55.57 264.19,55.50"/>
<polygon points="272.85,55.42 274.12,55.42 273.90,56.96 273.60,58.12 275.39,59.66 274.64,59.66 273.15,59.05 272.78,58.51 272.25,57.12" stroke-width="0.95"/>
<polygon points="273.90,64.30 275.02,63.52 276.51,62.37 277.26,63.91 276.51,65.22 275.39,64.91" stroke-width="0.95"/>
<polygon points="273.90,60.67 275.02,61.59 276.14,60.82 276.51,60.05 275.76,60.05 274.64,60.44" stroke-width="0.95"/>
<polygon points="270.31,63.22 272.03,61.05 271.66,61.29 270.16,63.06" stroke-width="0.95"/>
<polygon points="264.19,68.54 264.64,68.16 265.68,68.16 267.18,67.23 268.30,66.15 269.42,65.07 270.39,64.30 271.81,65.61 270.91,66.38 270.76,68.93 271.58,68.93 270.54,69.70 269.79,70.86 269.64,72.40 268.30,72.71 266.28,72.17 265.09,71.94 264.94,70.63 264.19,69.70" stroke-width="0.95"/>
<polygon points="253.96,65.38 255.60,65.69 257.69,67.92 260.31,70.47 261.95,72.02 261.80,74.18 260.83,74.25 259.19,72.79 257.77,70.47 256.50,68.39 254.86,66.77" stroke-width="0.95"/>
<polygon points="261.35,74.95 261.95,74.25 263.67,74.56 265.68,74.64 266.95,75.03 268.22,75.64 268.30,76.42 265.68,76.03 263.44,75.72 262.32,75.41" stroke-width="0.95"/>
<polygon points="268.67,76.03 269.42,76.18 271.66,76.11 274.64,76.03 274.64,76.49 271.66,76.57 269.42,76.57" stroke-width="0.95"/>
<polygon points="275.39,76.96 277.63,76.11 276.14,76.73 275.39,77.65" stroke-width="0.95"/>
<polygon points="271.96,73.95 272.70,73.95 272.70,71.86 273.15,71.78 274.27,73.41 274.64,73.10 273.52,71.17 274.94,70.39 273.15,70.47 273.15,69.31 275.76,69.39 276.21,68.46 275.61,68.93 272.78,69.08 272.25,69.70 271.51,71.78 272.03,72.40" stroke-width="0.95"/>
<polygon points="278.00,68.31 278.75,68.93 278.38,70.09 278.00,69.70" stroke-width="0.95"/>
<polygon points="278.38,72.17 280.47,72.40 279.87,72.71 278.75,72.48" stroke-width="0.95"/>
<polygon points="280.62,70.78 281.74,70.01 282.86,70.39 283.60,72.25 285.70,70.86 288.08,71.71 290.70,72.63 291.67,73.79 292.94,74.33 293.31,75.88 295.18,77.81 293.31,77.57 291.82,76.11 290.32,75.57 289.80,76.65 288.08,76.73 286.59,75.95 285.84,76.18 285.62,73.95 283.60,73.10 282.26,72.79 281.36,71.86 282.48,71.48 280.99,70.86" stroke-width="0.95"/>
<polygon points="293.68,73.95 295.18,73.95 296.30,72.94 296.52,73.95 294.81,74.56" stroke-width="0.95"/>
<polygon points="242.39,64.91 242.46,63.14 242.69,62.13 243.58,63.14 243.95,64.30 242.98,65.15"/>
<polygon points="267.55,86.68 268.07,86.53 269.94,85.60 271.66,85.14 273.15,84.75 274.12,83.21 275.02,82.36 276.14,80.97 277.63,80.35 278.75,81.20 279.57,81.20 280.24,79.35 281.74,78.66 283.60,79.12 284.95,79.12 284.35,80.12 283.98,81.28 285.47,82.28 286.82,83.13 287.94,83.13 288.53,81.28 288.46,79.35 289.20,77.96 289.95,80.51 291.30,81.28 291.82,83.21 292.04,84.37 293.91,85.45 295.18,87.07 297.05,89.00 297.49,91.70 297.05,93.63 296.30,95.18 295.18,97.11 294.81,98.65 292.94,99.04 292.04,99.89 290.92,99.11 288.83,99.27 287.34,98.88 287.04,97.72 285.84,97.26 286.22,96.33 285.47,96.72 285.70,95.18 284.35,96.57 283.75,96.33 282.86,95.02 280.62,94.02 278.38,94.56 275.76,95.25 275.02,95.87 272.40,95.95 270.76,96.80 268.67,96.18 269.12,95.41 269.19,94.02 268.67,92.47 267.92,90.16 267.55,88.61"/>
<polygon points="290.77,101.12 293.54,101.27 293.31,103.05 292.42,103.36 291.22,102.28"/>
<polygon points="311.76,96.26 313.10,97.72 314.00,98.26 316.09,98.80 315.64,99.96 314.89,100.19 313.47,101.82 313.17,101.51 313.32,100.43 312.58,99.96 313.17,99.04 312.95,97.88" stroke-width="0.95"/>
<polygon points="311.76,100.97 312.95,101.58 312.20,102.90 311.61,103.44 310.64,104.05 310.19,105.13 308.99,105.68 307.13,105.21 307.50,104.44 308.62,103.67 310.11,102.90 310.86,101.97" stroke-width="0.95"/>
<polygon points="119.41,52.79 120.82,52.02 122.32,51.87 123.44,52.33 124.93,52.95 126.35,53.49 127.39,54.11 124.78,54.34 124.56,53.64 122.69,52.87 121.72,52.48 120.45,52.56"/>
<polygon points="127.25,55.50 128.44,54.34 130.53,54.49 131.73,55.34 130.61,55.65 129.49,56.11 128.44,55.73"/>
<polygon points="124.33,55.50 125.83,55.65 125.45,55.88 124.71,55.88"/>
<polygon points="132.62,55.42 133.82,55.50 133.74,55.80 132.62,55.80"/>
<polygon points="191.01,9.10 191.68,9.51 192.50,9.69 193.21,10.04 194.00,10.26 194.75,10.31 195.49,10.34 196.24,10.26 196.85,9.63 197.73,9.25 198.55,9.34 199.19,8.86 200.11,9.30 200.77,8.90 201.51,8.74 202.31,8.79 202.96,8.33 202.14,8.41 201.52,7.87 200.64,8.17 199.84,8.19 199.23,7.63 198.45,7.47 197.78,8.12 197.03,8.10 196.26,8.03 195.49,7.94 194.72,7.53 194.00,7.95 193.26,8.13 192.50,7.85 191.75,7.81 191.01,8.09" stroke-width="0.95"/>
<polygon points="221.63,14.50 222.38,14.72 223.24,14.74 223.87,15.20 224.80,14.84 225.74,15.20 225.28,14.58 224.27,14.38 223.87,13.73 224.17,13.10 224.71,12.61 225.36,12.19 226.26,12.24 227.04,12.07 227.65,11.58 228.25,11.08 229.10,11.03 229.83,11.12 230.48,10.83 231.21,10.87 231.81,10.37 232.48,10.19 233.27,10.51 233.95,10.33 233.26,10.70 232.62,9.96 231.92,10.53 231.25,10.56 230.59,10.26 229.77,10.11 229.14,10.66 228.36,10.67 227.70,11.10 226.86,10.87 226.08,10.89 225.57,11.37 225.06,11.85 224.24,11.80 223.61,12.46 222.75,12.96 221.98,13.64" stroke-width="0.95"/>
<polygon points="254.48,8.71 255.18,9.05 256.00,8.78 256.70,9.13 257.47,9.10 258.32,9.13 258.97,8.72 259.71,8.52 260.46,8.33 259.72,8.12 258.98,7.91 258.29,7.57 257.47,7.55 256.76,7.29 255.95,7.55 255.25,7.19 254.46,7.38 253.74,7.17 254.46,7.84" stroke-width="0.95"/>
<polygon points="285.10,12.42 288.83,12.96 291.82,11.80 288.08,11.03" stroke-width="0.95"/>
<polygon points="316.09,14.73 317.21,14.50 317.21,14.97"/>
<polygon points="48.39,14.50 50.26,14.73 48.39,14.97"/>
<polygon points="218.64,7.79 223.87,7.55 227.60,7.32 229.10,6.94 223.87,6.78 218.64,7.32" stroke-width="0.95"/>
<polygon points="189.22,37.74 189.89,37.74 189.82,36.50 189.22,36.89"/>
<polygon points="189.07,39.59 189.97,39.51 190.04,38.05 188.92,38.05"/>
<polygon points="192.06,40.36 194.45,40.21 194.08,41.37 192.36,40.75"/>
<polygon points="200.35,42.45 202.44,42.53 201.32,42.76"/>
<polygon points="206.92,42.68 208.56,42.22 208.11,42.76 207.29,42.99"/>
<polygon points="272.25,76.26 274.64,76.11"/>
<polygon points="49.14,29.71 55.86,29.02 59.59,28.01 59.97,27.63 58.47,28.17 54.37,29.25 49.14,30.10"/>
<polygon points="311.61,28.78 315.71,29.71 317.21,29.79 317.21,30.10 315.71,30.02 311.61,29.09"/>
<polygon points="87.00,30.48 89.46,30.87 90.66,32.34 89.61,32.18 87.97,31.25"/>
<polygon points="83.49,28.01 84.46,28.01 84.76,29.40 83.86,28.94"/>
<polygon points="81.25,24.69 82.74,24.62 83.86,26.47 84.98,27.24 83.49,27.09 82.37,26.08"/>
<polygon points="67.43,25.00 69.08,24.92 68.18,25.77"/>
<polygon points="110.74,12.19 111.48,11.91 112.23,12.02 112.98,12.11 112.76,11.41 111.95,11.62 111.12,11.49" stroke-width="0.95"/>
<polygon points="105.14,9.79 106.03,9.95 106.87,9.57 107.76,9.64 108.88,9.02 108.09,8.91 107.38,8.63 106.45,8.82 105.52,9.02" stroke-width="0.95"/>
<polygon points="109.62,9.87 110.54,9.55 111.49,9.79 111.86,9.18 110.95,8.91 110.00,9.10" stroke-width="0.95"/>
<polygon points="99.17,9.48 100.01,9.17 100.88,9.10 101.78,9.33 101.41,8.71 100.51,9.03 99.54,8.87" stroke-width="0.95"/>
<polygon points="98.42,10.10 99.09,9.96 99.76,9.86 100.45,10.25 101.10,9.73 101.78,10.02 101.04,9.48 100.28,9.32 99.55,9.64 98.80,9.56" stroke-width="0.95"/>
<polygon points="108.88,16.66 109.80,16.82 110.74,16.82 111.49,16.20 110.63,16.26 110.00,15.81 109.66,16.41" stroke-width="0.95"/>
<polygon points="122.32,13.34 123.08,13.25 123.79,13.64 124.53,13.70 125.30,13.58 126.05,12.88 125.17,12.89 124.34,12.50 123.44,12.73" stroke-width="0.95"/>
<polygon points="120.45,21.68 121.94,21.45 121.20,21.06"/>
<polygon points="120.82,10.56 124.18,10.33 123.06,9.95" stroke-width="0.95"/>
<polygon points="103.65,10.10 104.77,10.02 104.25,9.79" stroke-width="0.95"/>
<polygon points="101.86,15.27 101.48,15.00 99.77,15.09 99.33,15.27 100.09,15.52 101.14,15.47" stroke-width="0.95"/>
<polygon points="106.30,16.05 106.00,15.77 104.29,15.59 103.88,16.05 104.22,16.41 105.66,16.34" stroke-width="0.95"/>
<polygon points="111.56,15.27 110.44,14.72 108.89,14.84 107.67,15.27 108.63,15.72 110.53,15.57" stroke-width="0.95"/>
<polygon points="114.84,15.04 114.48,14.76 113.55,14.74 113.17,15.04 113.67,15.47 114.66,15.39" stroke-width="0.95"/>
<polygon points="118.59,14.50 118.48,14.00 117.34,13.99 116.65,14.50 117.44,14.82 118.26,14.89" stroke-width="0.95"/>
<polygon points="121.33,13.73 120.63,13.24 119.44,13.22 119.23,13.73 119.55,14.17 120.61,14.39" stroke-width="0.95"/>
<polygon points="126.13,15.27 124.99,15.06 124.12,14.94 123.14,15.27 124.14,15.56 125.34,15.59" stroke-width="0.95"/>
<polygon points="130.20,14.50 130.00,13.99 128.31,13.96 127.76,14.50 128.20,15.15 130.11,14.92" stroke-width="0.95"/>
<polygon points="109.76,12.19 108.68,11.86 107.44,11.96 106.63,12.19 107.37,12.49 108.56,12.45" stroke-width="0.95"/>
<polygon points="103.19,12.57 102.52,12.21 101.64,11.90 101.56,12.57 101.86,13.18 102.64,12.96" stroke-width="0.95"/>
<polygon points="99.48,11.95 99.02,11.63 97.78,11.49 97.42,11.95 97.59,12.40 99.02,12.37" stroke-width="0.95"/>
<polygon points="105.96,10.80 105.52,10.55 104.81,10.46 104.39,10.80 104.57,11.02 105.52,11.14" stroke-width="0.95"/>
<polygon points="110.92,10.41 110.12,10.08 109.02,10.19 108.89,10.41 109.15,10.68 110.20,10.72" stroke-width="0.95"/>
<polygon points="115.72,9.10 115.18,8.87 113.42,8.84 112.46,9.10 113.38,9.44 114.94,9.43" stroke-width="0.95"/>
<polygon points="120.35,9.64 119.45,9.31 117.77,9.44 117.27,9.64 117.97,9.82 119.19,9.98" stroke-width="0.95"/>
<polygon points="124.09,8.87 123.75,8.23 122.52,8.32 122.25,8.87 122.37,9.37 123.61,9.42" stroke-width="0.95"/>
<polygon points="107.50,9.25 106.97,8.71 106.33,8.92 105.72,9.25 106.28,9.56 107.18,9.60" stroke-width="0.95"/>
<polygon points="98.22,10.80 97.62,10.25 96.38,10.31 95.80,10.80 96.17,11.17 97.53,11.30" stroke-width="0.95"/>
<polygon points="94.36,12.96 93.51,12.65 92.83,12.47 92.10,12.96 92.80,13.25 93.73,13.39" stroke-width="0.95"/>
<polygon points="90.99,11.03 90.30,10.56 88.70,10.33 88.42,11.03 88.95,11.58 90.05,11.60" stroke-width="0.95"/>
<polygon points="114.22,16.59 113.35,16.20 111.70,16.37 111.20,16.59 112.11,16.94 113.42,16.84" stroke-width="0.95"/>
<polygon points="117.03,17.59 116.14,17.08 114.64,17.17 113.76,17.59 115.02,17.90 116.25,18.10" stroke-width="0.95"/>
<polygon points="126.53,16.74 125.21,16.37 123.63,16.11 123.10,16.74 123.96,17.38 125.52,17.40" stroke-width="0.95"/>
<polygon points="122.64,10.41 122.27,9.76 120.63,9.78 119.68,10.41 120.64,10.78 122.55,11.04" stroke-width="0.95"/>
<polygon points="131.52,17.20 131.14,16.81 130.18,16.82 129.63,17.20 129.87,17.62 131.09,17.66" stroke-width="0.95"/>
<polygon points="135.75,18.36 134.65,18.05 132.39,18.02 132.24,18.36 132.52,18.71 134.44,18.77" stroke-width="0.95"/>
<polygon points="112.84,7.79 112.25,7.25 111.26,7.31 110.51,7.79 111.33,8.08 112.51,8.15" stroke-width="0.95"/>
<polygon points="118.35,7.48 117.57,7.01 116.58,7.05 116.26,7.48 116.38,8.03 117.79,8.01" stroke-width="0.95"/>
</g>
<g fill="#ffffff" stroke="#000" stroke-width="0.55">
<polygon points="203.71,37.89 204.16,36.12 205.20,34.57 206.32,33.72 207.81,34.19 207.07,34.65 207.81,35.35 208.93,34.96 210.05,34.73 211.17,35.35 212.67,36.12 213.86,37.58 211.92,38.05 209.68,37.51 207.81,37.28 205.95,37.89"/>
<polygon points="208.93,34.73 209.16,34.03 210.43,33.49 212.07,33.26 211.17,34.03 210.80,34.73"/>
<polygon points="217.89,35.11 219.76,33.80 222.00,33.57 222.38,34.73 220.88,35.35 222.23,37.66 223.12,38.20 222.75,40.75 220.88,41.37 219.54,40.75 219.76,38.67 218.34,36.66"/>
<polygon points="114.10,33.65 116.34,32.64 118.96,32.26 119.70,33.80 117.84,33.88 115.60,33.57"/>
<polygon points="117.24,37.28 118.29,36.89 118.73,34.57 119.33,34.19 117.84,34.34 117.24,35.73"/>
<polygon points="119.70,34.27 121.94,34.27 123.06,35.35 121.79,36.50 121.20,36.12 120.45,35.35"/>
<polygon points="120.53,37.51 123.81,36.66 123.89,36.81 121.94,37.66"/>
<polygon points="123.21,36.27 125.83,35.58 125.90,36.20 124.18,36.27"/>
<polygon points="108.88,30.87 110.22,30.79 110.74,28.94 109.62,28.17 108.73,28.94"/>
<polygon points="260.31,29.79 261.20,29.86 264.56,27.01 264.19,26.78 262.70,28.40"/>
<polygon points="206.55,70.47 207.81,69.93 208.34,70.86 207.44,71.71 206.47,71.24"/>
<polygon points="226.33,33.80 228.72,33.88 228.35,35.35 226.48,35.58"/>
</g>
<g fill="none" stroke="#111" stroke-width="0.45" stroke-linejoin="round">
<polyline points="90.96,31.87 111.71,31.87 111.71,31.56 112.01,32.10 113.36,32.18 114.85,32.49 115.97,32.64 116.72,32.41 118.58,33.03 119.70,33.80 121.20,34.73 121.27,36.50 120.75,37.20 122.32,37.12 123.81,36.58 124.56,36.04 125.68,35.73 126.80,34.96 129.41,34.96 130.16,34.42 130.53,33.72 131.13,33.11 132.02,33.18 132.17,33.42 132.17,34.42 132.77,35.11"/>
<polyline points="77.52,15.97 77.52,23.15 79.01,23.38 80.13,24.15 81.62,23.53 83.12,24.54 84.61,26.08 85.73,26.55 85.73,27.24"/>
<polyline points="95.36,44.61 97.15,44.46 97.08,44.61 99.92,45.54 102.01,45.54 102.01,45.15 103.28,45.15 104.77,46.85 105.89,47.31 107.01,46.69 108.50,48.47 110.22,49.71"/>
<polyline points="113.95,58.51 113.95,57.89 114.33,57.27 115.30,57.27 115.30,55.96 116.27,55.96 116.87,55.42"/>
<polyline points="116.27,55.96 116.19,57.43"/>
<polyline points="116.94,57.58 116.19,58.58 115.52,59.12"/>
<polyline points="117.61,59.66 118.81,59.05 119.48,58.27 120.67,58.12"/>
<polyline points="118.81,61.13 120.30,61.29"/>
<polyline points="120.90,63.45 121.12,62.29"/>
<polyline points="116.19,58.58 117.24,58.97 117.31,59.51"/>
<polyline points="129.56,60.59 128.66,61.21 128.07,62.60 128.81,63.52 128.74,63.99 130.46,64.30 132.10,64.91 132.55,65.45 132.10,66.30 132.55,67.92 132.85,68.77"/>
<polyline points="132.85,68.77 130.90,68.93 130.68,70.47 130.61,72.94"/>
<polyline points="130.61,72.94 129.04,71.63 127.92,70.70 126.65,69.78"/>
<polyline points="126.65,69.78 125.30,69.39 123.96,68.62"/>
<polyline points="126.65,69.78 126.35,70.86 124.18,73.56 123.44,73.17 122.84,72.32"/>
<polyline points="132.85,68.77 135.01,68.31 135.76,67.00 137.25,66.23 137.48,65.69"/>
<polyline points="137.48,65.69 137.25,64.30 137.77,63.37 138.15,63.22"/>
<polyline points="137.48,65.69 138.07,66.61 138.30,68.31 139.49,68.54 140.61,68.16 142.10,67.92 143.60,67.92 144.27,66.46"/>
<polyline points="140.61,68.16 140.16,65.22"/>
<polyline points="142.10,67.92 142.48,65.30"/>
<polyline points="130.61,72.94 128.29,73.56 127.92,75.49 128.66,77.03 130.16,78.19"/>
<polyline points="130.90,78.19 131.28,79.74 131.13,81.67 130.68,83.13"/>
<polyline points="130.68,83.13 130.23,83.83"/>
<polyline points="130.90,78.19 134.04,77.65 136.36,79.74 137.62,80.35 137.85,82.21 139.27,82.28 139.79,83.60"/>
<polyline points="130.68,83.13 131.65,84.75 131.88,86.30 132.62,87.30"/>
<polyline points="132.62,87.30 134.26,86.76 136.06,86.84"/>
<polyline points="136.06,86.84 136.73,84.83 138.74,84.60 139.34,84.99 139.79,83.60"/>
<polyline points="132.62,87.30 131.65,88.61 131.65,90.54 130.68,92.86 130.53,95.18 130.16,97.49 129.63,99.81 129.19,102.12 129.34,103.67 129.04,105.98 128.14,107.91 128.81,109.46 131.28,110.00"/>
<polyline points="131.58,110.31 131.58,112.08"/>
<polyline points="136.06,86.84 138.00,88.23 139.79,89.39 141.21,90.85 142.03,89.46"/>
<polyline points="142.03,89.46 142.25,88.23 141.36,87.69 139.57,86.76 139.34,84.99"/>
<polyline points="142.03,89.46 142.63,90.62 141.21,91.70 139.79,93.01"/>
<polyline points="139.79,93.01 139.34,94.79 139.19,95.95"/>
<polyline points="139.79,93.01 141.13,93.63 142.85,94.79 142.93,95.79"/>
<polyline points="181.46,42.60 181.53,44.22 180.93,45.00 179.07,46.54 176.30,47.54 176.30,48.32"/>
<polyline points="176.30,48.32 172.94,48.32"/>
<polyline points="176.30,48.32 176.30,49.78 173.84,49.71 173.84,51.56 173.02,53.26 170.11,53.26"/>
<polyline points="176.30,48.62 179.22,50.40 183.70,53.72 185.26,55.03 185.94,54.95"/>
<polyline points="179.22,50.40 178.32,53.26 178.69,57.73 174.21,57.73 173.69,58.43"/>
<polyline points="173.69,58.43 170.48,57.19"/>
<polyline points="173.69,58.43 174.29,60.13"/>
<polyline points="174.29,60.13 172.57,59.90 170.33,60.13"/>
<polyline points="170.33,59.20 172.50,59.28"/>
<polyline points="172.57,59.90 171.60,61.21"/>
<polyline points="174.29,60.13 176.30,60.28 176.68,61.59"/>
<polyline points="172.94,62.75 173.54,62.06 174.88,62.52 175.11,63.14 176.45,63.83"/>
<polyline points="174.88,63.14 174.21,64.37"/>
<polyline points="176.45,63.83 177.20,66.30"/>
<polyline points="176.45,63.83 176.68,61.59 177.95,61.75 178.69,61.67 179.29,62.21 180.78,62.37"/>
<polyline points="180.78,62.37 180.41,64.68 180.56,65.84"/>
<polyline points="180.78,62.37 180.71,61.21 182.80,61.21"/>
<polyline points="182.80,61.21 183.17,63.14 183.70,64.99"/>
<polyline points="183.47,61.21 183.99,62.75 184.14,64.84"/>
<polyline points="185.49,60.67 184.82,62.75 184.82,64.76"/>
<polyline points="178.69,61.67 178.84,60.59 179.59,59.51 181.31,58.51 183.17,58.12 185.41,57.81 185.94,56.65 185.94,54.95"/>
<polyline points="183.17,58.12 183.55,59.28 184.59,60.51 183.47,61.21"/>
<polyline points="184.82,60.51 185.49,60.67 185.94,59.28 187.65,59.28 189.52,59.82 192.13,59.43 192.96,59.12"/>
<polyline points="185.94,54.95 188.40,53.64 191.76,51.56"/>
<polyline points="192.96,59.12 194.37,57.35 194.75,54.03 194.00,51.94"/>
<polyline points="189.89,46.39 190.27,48.47 189.89,49.40 190.27,50.79 191.76,51.56"/>
<polyline points="189.22,41.21 189.07,43.07 188.40,44.07 189.89,46.39"/>
<polyline points="189.89,46.39 190.49,45.23 191.39,44.07"/>
<polyline points="201.47,45.30 201.47,52.72"/>
<polyline points="201.47,52.72 201.47,54.26 200.72,54.26 200.72,54.65"/>
<polyline points="194.00,51.94 200.72,54.65"/>
<polyline points="201.47,52.72 210.35,52.72"/>
<polyline points="200.72,54.65 200.72,57.73 199.60,58.89 199.23,59.82 199.90,61.21"/>
<polyline points="192.96,59.12 193.63,59.82 194.00,61.21 193.40,61.98 194.37,62.06 194.75,63.52"/>
<polyline points="194.37,63.91 196.24,63.52 197.73,62.75 199.23,61.36 199.90,61.21"/>
<polyline points="192.96,59.12 193.63,60.44 192.88,61.98 191.91,63.14 191.01,64.68 189.89,65.45 189.22,66.23"/>
<polyline points="194.37,63.91 193.63,65.84 194.75,68.00"/>
<polyline points="194.75,68.00 192.51,68.00 191.24,68.00 190.12,67.92"/>
<polyline points="199.90,61.21 200.72,62.75 201.84,63.91 203.33,65.84"/>
<polyline points="194.75,68.00 196.61,67.00 199.23,66.46 201.47,65.84 203.33,65.84"/>
<polyline points="199.90,61.59 202.21,62.37 204.08,62.37 207.07,60.28 208.19,62.37"/>
<polyline points="208.19,62.37 208.34,64.68 209.61,66.15"/>
<polyline points="203.33,65.84 205.20,67.00 206.32,66.84 207.81,66.77 209.61,66.15"/>
<polyline points="211.62,56.19 210.05,58.66 209.83,59.97 208.79,61.59 208.19,62.37"/>
<polyline points="210.05,58.66 212.29,58.51 213.79,59.05 214.46,60.05"/>
<polyline points="214.46,60.05 214.76,61.21 215.65,62.75 218.64,63.52 216.40,65.84 214.16,66.61 213.41,66.61"/>
<polyline points="209.61,66.15 211.92,67.00 213.41,66.61"/>
<polyline points="213.41,66.61 213.41,70.94"/>
<polyline points="207.81,66.77 208.93,68.54 208.19,70.47"/>
<polyline points="208.19,70.47 210.80,72.40 212.07,73.25"/>
<polyline points="205.80,67.00 204.90,70.78"/>
<polyline points="204.90,70.47 208.19,70.47"/>
<polyline points="196.61,67.00 195.87,70.47 194.90,71.40 194.37,73.02 192.66,74.25"/>
<polyline points="191.91,74.33 195.12,75.49 195.87,75.88 197.36,75.88 199.08,75.34 199.23,78.19 200.72,78.19"/>
<polyline points="200.72,78.19 202.21,78.58 204.08,79.74 205.05,80.04 204.08,76.65 205.57,76.11"/>
<polyline points="204.90,70.78 204.45,72.40 204.83,74.33 205.57,76.11"/>
<polyline points="205.57,76.11 207.44,77.03 208.56,78.58 210.80,78.58 213.04,77.81"/>
<polyline points="191.24,68.00 192.51,68.93 193.63,71.24 191.76,72.79 191.09,72.71"/>
<polyline points="191.61,83.06 193.25,83.13 196.61,83.13 200.35,83.29"/>
<polyline points="200.72,78.19 199.23,79.74 199.23,82.21 200.35,83.29"/>
<polyline points="200.35,83.29 202.96,83.44 205.20,81.74 207.44,80.89 207.44,78.96 207.44,77.03"/>
<polyline points="197.73,83.52 198.48,83.83 197.73,86.68 197.73,88.85"/>
<polyline points="197.73,88.85 197.73,91.62 195.12,91.78"/>
<polyline points="197.73,88.85 199.60,89.77 201.84,89.39 202.96,88.23 204.75,86.84"/>
<polyline points="201.69,83.44 203.33,85.53 204.75,86.84"/>
<polyline points="205.20,81.74 207.44,82.44 207.07,84.37 206.17,86.99"/>
<polyline points="206.17,86.99 206.69,89.00 207.37,90.47"/>
<polyline points="207.44,80.89 208.93,82.44 209.31,80.51 208.56,78.58"/>
<polyline points="202.96,92.47 204.08,91.86 204.83,92.47 203.71,93.32 202.96,92.47"/>
<polyline points="176.15,37.35 177.57,37.35 177.65,38.05 177.57,39.05 177.20,39.59 177.57,40.36 177.27,40.98"/>
<polyline points="181.46,36.20 182.80,36.74 185.19,36.97"/>
<polyline points="184.67,30.25 185.79,31.10 187.13,31.49 188.77,31.87 188.47,32.95 187.28,34.03 188.03,34.57 188.40,35.89"/>
<polyline points="185.34,30.10 187.28,30.48"/>
<polyline points="187.28,30.48 187.28,29.63 188.18,28.63"/>
<polyline points="187.28,30.48 187.13,31.49"/>
<polyline points="189.22,27.32 190.19,27.39"/>
<polyline points="193.40,28.09 193.70,29.17 194.00,30.33"/>
<polyline points="194.00,30.33 191.91,30.87 193.10,32.03"/>
<polyline points="193.10,32.03 192.51,33.03 190.27,33.18 189.89,33.03"/>
<polyline points="189.89,33.03 188.47,32.95"/>
<polyline points="187.28,34.03 188.77,34.19 189.52,33.88 190.64,33.57 189.89,33.03"/>
<polyline points="190.64,33.57 192.13,33.42 193.03,33.80 193.03,34.42"/>
<polyline points="193.10,32.03 194.00,31.87 195.49,32.18 195.57,32.64 195.12,33.57 194.00,33.72 193.03,33.80"/>
<polyline points="194.00,30.33 195.12,30.71 196.84,31.49"/>
<polyline points="195.49,32.18 196.84,31.49"/>
<polyline points="196.84,31.49 199.60,31.87 200.72,30.71 200.42,29.94"/>
<polyline points="200.42,29.94 200.35,28.01"/>
<polyline points="200.35,28.01 199.82,27.70 197.44,27.70"/>
<polyline points="195.57,32.64 196.84,32.80 199.30,32.34"/>
<polyline points="199.30,32.34 199.90,32.72 198.85,33.80 197.96,34.11"/>
<polyline points="197.96,34.11 196.61,34.34 195.12,33.80"/>
<polyline points="192.96,34.57 194.37,34.34 195.12,33.80"/>
<polyline points="194.60,34.81 196.99,35.04 197.29,35.73 196.61,36.89"/>
<polyline points="197.96,34.11 198.85,34.96 199.60,35.50 199.90,36.12 199.53,37.04"/>
<polyline points="199.60,35.50 201.47,35.96 202.96,35.65 204.16,35.89"/>
<polyline points="199.90,32.72 202.66,32.41 203.86,33.80 203.86,34.57 204.98,34.81"/>
<polyline points="199.53,37.04 200.35,37.74 202.36,37.51 203.71,37.28"/>
<polyline points="202.36,37.51 202.44,38.13"/>
<polyline points="197.29,37.43 198.11,37.28 198.18,38.05 198.48,38.36 197.88,39.13"/>
<polyline points="198.18,38.05 199.53,37.97 199.53,37.04"/>
<polyline points="200.42,29.94 202.21,29.63 205.57,30.10 206.32,29.48 207.81,29.32"/>
<polyline points="207.81,29.32 209.31,30.79 211.17,31.18 212.67,31.41 212.44,32.64 211.32,33.34"/>
<polyline points="200.35,28.01 201.84,27.78 202.66,26.78 203.86,26.39 205.95,26.70 207.07,28.40 206.32,29.48"/>
<polyline points="198.56,26.39 202.66,26.78"/>
<polyline points="200.94,25.00 203.26,25.31"/>
<polyline points="203.26,25.31 203.71,23.84"/>
<polyline points="203.26,25.31 203.86,26.39"/>
<polyline points="203.56,22.99 204.83,22.22 206.32,21.14 204.83,20.14 205.20,19.13 204.45,18.36 204.83,17.44 204.08,16.51 204.45,16.05 205.95,15.81"/>
<polyline points="200.72,18.90 200.35,17.82 198.18,16.43"/>
<polyline points="198.18,16.43 199.60,16.66 201.47,16.74 202.59,15.74 204.08,16.35"/>
<polyline points="191.31,24.15 191.98,22.99 191.91,22.22 191.84,20.68 193.25,19.91 194.37,18.59 196.09,17.20 198.18,16.43"/>
<polyline points="177.20,27.16 178.10,27.93"/>
<polyline points="219.54,33.96 219.01,33.03 217.52,32.26 218.27,30.71 220.14,29.94 223.12,30.33 225.36,30.33 228.35,30.48 228.35,28.40 228.72,27.47 231.34,27.01 234.32,26.93 237.31,28.01 239.92,28.01 241.79,29.17 244.03,30.48 246.27,31.33 247.99,31.72"/>
<polyline points="247.99,31.72 246.64,33.42 244.78,33.42 244.40,34.57 242.69,34.96 242.91,36.66"/>
<polyline points="242.91,36.66 239.92,36.50 237.68,36.89 235.82,37.12 234.32,37.89 232.08,36.58 228.35,35.35 226.33,34.57 224.62,37.82 222.38,37.20"/>
<polyline points="247.99,31.72 250.00,30.71 253.74,31.10 255.98,29.94 258.96,29.94 262.70,30.71 265.68,31.49 269.42,31.10"/>
<polyline points="269.42,31.10 272.03,29.17 273.15,28.55 276.88,28.94 278.00,31.10 280.24,32.03 282.11,32.41 283.60,32.34 282.86,33.18 282.26,34.96 280.77,35.04 280.84,36.66 280.32,36.97"/>
<polyline points="248.29,31.87 250.75,34.57 254.48,36.66 257.47,36.81 261.20,37.51 266.06,35.96 267.92,35.04 269.42,33.80 272.18,33.42 270.91,32.64 269.42,31.10"/>
<polyline points="275.61,38.82 276.88,37.66 278.75,37.28 280.32,36.97"/>
<polyline points="276.96,40.60 278.68,39.90"/>
<polyline points="242.91,36.66 239.55,38.43 237.83,39.21 238.65,40.90 239.18,41.52 240.89,42.29"/>
<polyline points="240.89,42.29 242.16,44.61 241.79,45.77 243.28,46.39 245.52,47.70 248.51,48.16 249.26,48.08 251.50,48.24 255.23,47.93 256.35,48.86 256.13,50.40 255.60,51.17 257.10,52.64 258.22,53.10"/>
<polyline points="258.22,53.10 258.96,52.41 260.08,52.25 261.95,52.10 263.44,53.10"/>
<polyline points="240.89,42.29 238.80,44.61 238.43,45.77 237.68,47.31 235.82,48.24 235.07,50.01 234.32,50.94 233.95,51.48"/>
<polyline points="238.65,40.90 236.19,41.52 235.82,43.45 234.70,43.61 234.32,45.38 232.46,46.77 230.22,46.93 228.87,47.08 229.47,48.08 229.99,48.86 228.87,50.25"/>
<polyline points="228.87,47.08 228.35,45.38 228.20,43.45 228.50,42.22"/>
<polyline points="228.50,42.22 229.84,42.06 231.34,40.90 233.20,40.98 235.07,40.75 236.19,41.29 238.65,40.90"/>
<polyline points="223.05,40.90 225.36,40.36 227.98,41.52 228.50,42.22"/>
<polyline points="219.01,46.54 218.42,45.38 216.77,43.45 217.15,42.29 216.25,40.98"/>
<polyline points="216.25,40.98 215.88,39.44 216.40,38.97 217.52,39.59 218.64,39.98 219.31,40.06"/>
<polyline points="218.57,46.54 217.52,47.23 216.18,47.16 214.16,45.69 211.92,44.76 213.41,43.14 213.64,41.52 214.46,41.06 216.25,40.98"/>
<polyline points="209.68,41.52 210.43,41.37 212.67,41.21 214.46,41.06"/>
<polyline points="213.86,37.58 214.91,37.89 215.65,38.82 215.88,39.44"/>
<polyline points="209.61,42.68 210.05,43.07 209.46,44.22 211.92,44.76"/>
<polyline points="211.92,44.76 210.43,45.38 211.17,46.54 210.05,46.93 208.93,47.00"/>
<polyline points="208.93,46.93 209.31,45.38 209.38,44.22"/>
<polyline points="214.91,56.81 217.15,56.34 218.64,55.80 221.63,55.03 223.87,54.26 224.24,52.72 221.63,51.94 221.26,51.02"/>
<polyline points="221.78,57.35 221.63,55.03"/>
<polyline points="212.59,36.20 214.16,36.27 215.65,36.74 217.15,37.35 219.01,37.43"/>
<polyline points="214.91,37.89 216.40,37.89 217.52,38.05"/>
<polyline points="216.40,37.89 216.77,38.82 217.52,39.59"/>
<polyline points="224.62,37.82 226.11,36.81 227.60,37.28 229.10,38.43 230.59,39.59 232.46,40.83"/>
<polyline points="224.62,37.82 224.62,34.96 226.33,34.57"/>
<polyline points="232.46,40.83 233.20,39.59 234.32,38.67 235.82,38.67 237.31,38.82 237.68,39.21"/>
<polyline points="234.32,38.67 235.44,38.05 237.31,38.20 237.83,39.21"/>
<polyline points="255.23,47.93 254.11,48.86 253.36,50.40 252.62,51.17 252.24,52.72 251.87,53.49 251.72,53.72"/>
<polyline points="248.88,49.24 249.26,50.17 248.66,50.79 249.26,52.33 249.26,52.95"/>
<polyline points="249.63,49.63 251.50,50.40 251.87,51.94 251.72,53.72"/>
<polyline points="242.54,46.54 243.28,47.70 245.52,48.62 248.51,49.32 248.51,48.16"/>
<polyline points="258.22,53.10 257.47,53.95 256.35,54.49 255.75,55.42 256.35,56.96 256.72,58.89 256.50,61.52"/>
<polyline points="257.47,53.95 258.22,54.65 258.22,56.19 259.71,55.80 260.83,56.19 261.58,58.12"/>
<polyline points="261.58,58.66 259.71,58.66 259.34,60.05"/>
<polyline points="258.96,52.41 260.46,54.26 261.20,55.42 262.32,56.58 263.07,58.12"/>
<polyline points="261.58,58.66 263.07,58.51 261.95,61.21 260.83,61.67"/>
<polyline points="261.58,58.12 263.07,58.51"/>
<polyline points="257.54,64.68 258.22,64.91 259.04,64.91"/>
<polyline points="264.64,68.16 265.68,68.77 267.55,68.70 269.04,67.38 270.54,66.46"/>
<polyline points="288.08,71.71 288.08,76.73"/>
<polyline points="129.26,54.41 129.19,55.73"/>
</g>
<g fill="#000" stroke="none">
<circle cx="99.92" cy="55.19" r="0.45"/>
<circle cx="54.89" cy="71.78" r="0.45"/>
<circle cx="62.58" cy="77.73" r="0.45"/>
<circle cx="63.48" cy="86.07" r="0.45"/>
<circle cx="69.67" cy="82.44" r="0.45"/>
<circle cx="71.17" cy="83.29" r="0.45"/>
<circle cx="72.29" cy="81.28" r="0.45"/>
<circle cx="73.78" cy="82.05" r="0.45"/>
<circle cx="75.28" cy="82.82" r="0.45"/>
<circle cx="76.77" cy="82.44" r="0.45"/>
<circle cx="78.26" cy="83.60" r="0.45"/>
<circle cx="79.76" cy="85.14" r="0.45"/>
<circle cx="81.25" cy="86.68" r="0.45"/>
<circle cx="78.26" cy="76.65" r="0.45"/>
<circle cx="79.01" cy="77.27" r="0.45"/>
<circle cx="71.17" cy="87.69" r="0.45"/>
<circle cx="72.66" cy="88.07" r="0.45"/>
<circle cx="85.73" cy="89.00" r="0.45"/>
<circle cx="101.11" cy="90.62" r="0.45"/>
<circle cx="51.98" cy="86.07" r="0.45"/>
<circle cx="49.96" cy="92.32" r="0.45"/>
<circle cx="54.14" cy="80.20" r="0.45"/>
<circle cx="54.74" cy="80.51" r="0.45"/>
<circle cx="310.49" cy="64.30" r="0.45"/>
<circle cx="308.25" cy="62.75" r="0.45"/>
<circle cx="300.78" cy="64.30" r="0.45"/>
<circle cx="296.30" cy="64.30" r="0.45"/>
<circle cx="283.23" cy="63.91" r="0.45"/>
<circle cx="291.59" cy="57.97" r="0.45"/>
<circle cx="291.67" cy="55.80" r="0.45"/>
<circle cx="288.98" cy="48.86" r="0.45"/>
<circle cx="301.53" cy="94.02" r="0.45"/>
<circle cx="308.25" cy="92.09" r="0.45"/>
<circle cx="51.01" cy="103.67" r="0.45"/>
<circle cx="306.75" cy="108.84" r="0.45"/>
<circle cx="301.45" cy="111.85" r="0.45"/>
<circle cx="134.41" cy="44.76" r="0.45"/>
<circle cx="161.89" cy="39.90" r="0.45"/>
<circle cx="163.76" cy="40.52" r="0.45"/>
<circle cx="170.11" cy="44.46" r="0.45"/>
<circle cx="170.48" cy="47.85" r="0.45"/>
<circle cx="171.23" cy="48.08" r="0.45"/>
<circle cx="172.35" cy="47.70" r="0.45"/>
<circle cx="164.88" cy="57.35" r="0.45"/>
<circle cx="165.25" cy="58.12" r="0.45"/>
<circle cx="187.73" cy="69.47" r="0.45"/>
<circle cx="189.30" cy="67.00" r="0.45"/>
<circle cx="237.53" cy="67.38" r="0.45"/>
<circle cx="237.68" cy="65.84" r="0.45"/>
<circle cx="252.84" cy="63.91" r="0.45"/>
<circle cx="225.74" cy="85.29" r="0.45"/>
<circle cx="224.24" cy="85.99" r="0.45"/>
<circle cx="224.24" cy="73.25" r="0.45"/>
<circle cx="215.28" cy="78.73" r="0.45"/>
<circle cx="230.14" cy="84.91" r="0.45"/>
<circle cx="210.95" cy="105.91" r="0.45"/>
<circle cx="221.26" cy="105.52" r="0.45"/>
<circle cx="155.55" cy="111.62" r="0.45"/>
<circle cx="173.62" cy="98.34" r="0.45"/>
<circle cx="178.54" cy="82.05" r="0.45"/>
<circle cx="172.05" cy="75.80" r="0.45"/>
<circle cx="277.26" cy="72.32" r="0.45"/>
<circle cx="283.23" cy="74.33" r="0.45"/>
<circle cx="281.89" cy="74.02" r="0.45"/>
<circle cx="280.99" cy="75.57" r="0.45"/>
<circle cx="114.85" cy="70.09" r="0.45"/>
<circle cx="115.37" cy="70.32" r="0.45"/>
<circle cx="65.57" cy="71.17" r="0.45"/>
<circle cx="285.84" cy="62.37" r="0.45"/>
<circle cx="287.34" cy="63.52" r="0.45"/>
<circle cx="290.32" cy="63.91" r="0.45"/>
<circle cx="292.56" cy="64.14" r="0.45"/>
<circle cx="294.43" cy="64.06" r="0.45"/>
<circle cx="296.15" cy="63.99" r="0.45"/>
<circle cx="297.42" cy="65.45" r="0.45"/>
<circle cx="298.54" cy="64.68" r="0.45"/>
<circle cx="300.41" cy="64.45" r="0.45"/>
<circle cx="302.27" cy="64.30" r="0.45"/>
<circle cx="304.51" cy="65.61" r="0.45"/>
<circle cx="306.75" cy="60.82" r="0.45"/>
<circle cx="307.87" cy="63.14" r="0.45"/>
<circle cx="308.99" cy="65.07" r="0.45"/>
<circle cx="310.11" cy="62.75" r="0.45"/>
<circle cx="310.86" cy="63.91" r="0.45"/>
<circle cx="311.23" cy="68.16" r="0.45"/>
<circle cx="311.98" cy="68.93" r="0.45"/>
<circle cx="312.73" cy="70.47" r="0.45"/>
<circle cx="314.22" cy="71.24" r="0.45"/>
<circle cx="316.46" cy="75.88" r="0.45"/>
<circle cx="315.34" cy="74.72" r="0.45"/>
<circle cx="307.50" cy="70.09" r="0.45"/>
<circle cx="306.75" cy="77.81" r="0.45"/>
<circle cx="296.67" cy="78.19" r="0.45"/>
<circle cx="297.79" cy="78.58" r="0.45"/>
<circle cx="302.12" cy="78.58" r="0.45"/>
<circle cx="304.51" cy="84.37" r="0.45"/>
<circle cx="56.23" cy="84.37" r="0.45"/>
<circle cx="52.87" cy="83.98" r="0.45"/>
<circle cx="51.38" cy="79.89" r="0.45"/>
<circle cx="55.11" cy="76.80" r="0.45"/>
<circle cx="137.25" cy="58.43" r="0.45"/>
<circle cx="137.03" cy="57.19" r="0.45"/>
<circle cx="136.88" cy="56.58" r="0.45"/>
<circle cx="137.10" cy="59.51" r="0.45"/>
<circle cx="123.06" cy="95.64" r="0.45"/>
<circle cx="123.96" cy="95.64" r="0.45"/>
<circle cx="154.43" cy="85.53" r="0.45"/>
<circle cx="160.92" cy="85.53" r="0.45"/>
<circle cx="158.61" cy="72.63" r="0.45"/>
<circle cx="164.13" cy="98.65" r="0.45"/>
<circle cx="175.33" cy="100.81" r="0.45"/>
</g>
<g fill="none" stroke="#000" stroke-linecap="round" stroke-linejoin="round">
<polyline points="63.33,52.72 64.90,53.18 66.02,53.64 66.69,54.57" stroke-width="0.9"/>
<polyline points="61.76,65.15 63.85,66.61 65.27,68.23" stroke-width="0.6"/>
<polyline points="299.29,74.95 300.78,75.88 302.27,76.96 303.39,77.65" stroke-width="0.9"/>
<polyline points="307.35,80.97 308.47,82.44 309.22,84.75" stroke-width="0.8"/>
<polyline points="305.26,85.29 307.50,86.84" stroke-width="1.2"/>
<polyline points="295.40,71.71 296.97,73.33" stroke-width="0.9"/>
<polyline points="315.12,83.06 316.09,83.44 316.83,82.52" stroke-width="1.0"/>
<polyline points="48.39,82.28 48.92,82.67 49.44,83.29" stroke-width="1.0"/>
<polyline points="291.44,36.12 293.31,34.96 294.81,33.80 297.05,32.64 298.54,31.49 299.66,30.48" stroke-width="0.7"/>
<polyline points="280.24,46.15 279.50,47.70 278.38,49.09 276.88,49.63 275.39,50.79" stroke-width="0.6"/>
<polyline points="123.81,49.24 124.93,50.40 126.05,51.56 127.54,52.48" stroke-width="0.8"/>
<polyline points="252.09,59.28 251.94,60.82" stroke-width="0.8"/>
<polyline points="222.60,60.05 223.35,60.05" stroke-width="1.0"/>
<polyline points="137.25,109.30 139.49,109.69 138.37,110.08" stroke-width="1.4"/>
<polyline points="234.32,107.53 235.22,107.91" stroke-width="1.0"/>
<polyline points="71.17,83.29 72.29,82.44" stroke-width="0.6"/>
<polyline points="275.02,60.05 276.14,61.21 276.29,61.98" stroke-width="1.0"/>
<polyline points="274.27,61.59 274.87,62.37" stroke-width="1.0"/>
<polyline points="273.00,59.43 273.52,60.05" stroke-width="1.0"/>
<line x1="129.41" y1="92.86" x2="129.19" y2="97.49" stroke-width="0.6"/>
<line x1="129.19" y1="97.49" x2="127.84" y2="98.26" stroke-width="0.6"/>
<line x1="127.84" y1="98.26" x2="127.69" y2="101.74" stroke-width="0.8"/>
<line x1="127.69" y1="101.74" x2="127.92" y2="102.90" stroke-width="1.1"/>
<line x1="127.92" y1="102.90" x2="127.54" y2="104.83" stroke-width="1.5"/>
<line x1="127.54" y1="104.83" x2="126.42" y2="105.98" stroke-width="1.9"/>
<line x1="126.42" y1="105.98" x2="127.17" y2="107.53" stroke-width="2.1"/>
<line x1="127.17" y1="107.53" x2="126.80" y2="109.46" stroke-width="2.2"/>
<line x1="126.80" y1="109.46" x2="127.92" y2="110.62" stroke-width="2.2"/>
<line x1="127.92" y1="110.62" x2="129.78" y2="111.77" stroke-width="2.2"/>
<line x1="129.78" y1="111.77" x2="132.02" y2="112.55" stroke-width="1.9"/>
<line x1="132.02" y1="112.55" x2="133.14" y2="112.16" stroke-width="1.5"/>
<line x1="186.68" y1="23.38" x2="186.53" y2="22.61" stroke-width="1.2"/>
<line x1="186.53" y1="22.61" x2="186.68" y2="21.45" stroke-width="1.2"/>
<line x1="186.68" y1="21.45" x2="188.77" y2="20.68" stroke-width="1.2"/>
<line x1="188.77" y1="20.68" x2="190.27" y2="19.91" stroke-width="1.2"/>
<line x1="190.27" y1="19.91" x2="192.13" y2="18.75" stroke-width="1.2"/>
<line x1="192.13" y1="18.75" x2="193.63" y2="17.36" stroke-width="1.2"/>
<line x1="193.63" y1="17.36" x2="194.75" y2="16.82" stroke-width="1.2"/>
<line x1="194.75" y1="16.82" x2="196.24" y2="15.89" stroke-width="1.2"/>
<line x1="196.24" y1="15.89" x2="198.48" y2="15.51" stroke-width="1.2"/>
<line x1="198.48" y1="15.51" x2="201.47" y2="14.81" stroke-width="1.2"/>
<line x1="201.47" y1="14.81" x2="203.71" y2="14.89" stroke-width="1.2"/>
<line x1="203.71" y1="14.89" x2="205.95" y2="15.43" stroke-width="1.2"/>
<line x1="81.25" y1="24.54" x2="81.62" y2="24.15" stroke-width="1.0"/>
<line x1="81.62" y1="24.15" x2="78.64" y2="23.53" stroke-width="1.0"/>
<line x1="78.64" y1="23.53" x2="75.28" y2="23.38" stroke-width="1.0"/>
<line x1="75.28" y1="23.38" x2="73.04" y2="22.76" stroke-width="1.0"/>
<line x1="73.04" y1="22.76" x2="70.42" y2="23.77" stroke-width="1.0"/>
<line x1="70.42" y1="23.77" x2="69.30" y2="22.99" stroke-width="1.0"/>
<line x1="69.30" y1="22.99" x2="67.81" y2="24.92" stroke-width="1.0"/>
<line x1="90.96" y1="31.87" x2="89.46" y2="31.10" stroke-width="1.3"/>
<line x1="89.46" y1="31.10" x2="87.60" y2="30.48" stroke-width="1.3"/>
<line x1="87.60" y1="30.48" x2="87.22" y2="29.56" stroke-width="1.3"/>
<line x1="87.22" y1="29.56" x2="85.36" y2="27.63" stroke-width="1.3"/>
<line x1="85.36" y1="27.63" x2="83.49" y2="25.70" stroke-width="1.3"/>
<line x1="83.49" y1="25.70" x2="81.62" y2="24.15" stroke-width="1.3"/>
<line x1="128.29" y1="9.33" x2="131.65" y2="11.03" stroke-width="0.9"/>
<line x1="131.65" y1="11.03" x2="133.52" y2="10.95" stroke-width="0.9"/>
<line x1="133.52" y1="10.95" x2="138.00" y2="11.11" stroke-width="0.9"/>
<line x1="138.00" y1="11.11" x2="140.24" y2="12.19" stroke-width="0.9"/>
<line x1="140.24" y1="12.19" x2="141.73" y2="14.12" stroke-width="0.9"/>
<line x1="141.73" y1="14.12" x2="142.48" y2="15.35" stroke-width="0.9"/>
<line x1="142.48" y1="15.35" x2="144.72" y2="16.05" stroke-width="0.9"/>
<line x1="144.72" y1="16.05" x2="142.85" y2="17.98" stroke-width="0.9"/>
<line x1="142.85" y1="17.98" x2="143.60" y2="19.13" stroke-width="0.9"/>
<line x1="143.60" y1="19.13" x2="145.47" y2="20.68" stroke-width="0.9"/>
<line x1="145.47" y1="20.68" x2="146.21" y2="21.84" stroke-width="0.9"/>
<line x1="146.21" y1="21.84" x2="146.59" y2="22.61" stroke-width="0.9"/>
<line x1="146.59" y1="22.61" x2="149.57" y2="23.38" stroke-width="0.9"/>
<line x1="150.69" y1="23.23" x2="151.44" y2="22.22" stroke-width="1.0"/>
<line x1="151.44" y1="22.22" x2="152.56" y2="20.68" stroke-width="1.0"/>
<line x1="152.56" y1="20.68" x2="153.31" y2="19.13" stroke-width="1.0"/>
<line x1="153.31" y1="19.13" x2="156.67" y2="18.75" stroke-width="1.0"/>
<line x1="156.67" y1="18.75" x2="158.91" y2="17.20" stroke-width="1.0"/>
<line x1="158.91" y1="17.20" x2="163.39" y2="16.82" stroke-width="1.0"/>
<line x1="163.39" y1="16.82" x2="165.63" y2="15.51" stroke-width="1.0"/>
<line x1="165.63" y1="15.51" x2="166.37" y2="14.50" stroke-width="1.0"/>
<line x1="166.37" y1="14.50" x2="166.37" y2="12.96" stroke-width="1.0"/>
<line x1="166.37" y1="12.96" x2="168.24" y2="12.19" stroke-width="1.0"/>
<line x1="168.24" y1="12.19" x2="167.87" y2="10.64" stroke-width="1.0"/>
<line x1="167.87" y1="10.64" x2="168.99" y2="9.87" stroke-width="1.0"/>
<line x1="168.99" y1="9.87" x2="167.87" y2="8.33" stroke-width="1.0"/>
<line x1="167.87" y1="8.33" x2="170.48" y2="7.55" stroke-width="1.0"/>
<line x1="178.54" y1="25.31" x2="178.69" y2="26.24" stroke-width="1.0"/>
<line x1="178.69" y1="26.24" x2="179.07" y2="27.09" stroke-width="1.0"/>
<line x1="213.41" y1="18.36" x2="211.55" y2="18.75" stroke-width="0.8"/>
<line x1="211.55" y1="18.75" x2="208.56" y2="18.44" stroke-width="0.8"/>
<line x1="208.56" y1="18.44" x2="207.07" y2="17.98" stroke-width="0.8"/>
<line x1="207.07" y1="17.98" x2="208.79" y2="19.52" stroke-width="0.8"/>
<line x1="232.46" y1="15.04" x2="234.32" y2="13.42" stroke-width="0.9"/>
<line x1="234.32" y1="13.42" x2="237.16" y2="13.73" stroke-width="0.9"/>
<line x1="237.16" y1="13.73" x2="236.79" y2="15.66" stroke-width="0.9"/>
<line x1="236.79" y1="15.66" x2="238.80" y2="16.05" stroke-width="0.9"/>
<line x1="238.80" y1="16.05" x2="240.30" y2="13.88" stroke-width="0.9"/>
<line x1="240.30" y1="13.88" x2="242.91" y2="12.96" stroke-width="0.9"/>
<line x1="242.91" y1="12.96" x2="247.39" y2="12.19" stroke-width="0.9"/>
<line x1="247.39" y1="12.19" x2="247.76" y2="11.65" stroke-width="0.9"/>
<line x1="247.76" y1="11.65" x2="253.74" y2="11.03" stroke-width="0.9"/>
<line x1="253.74" y1="11.03" x2="257.47" y2="10.64" stroke-width="0.9"/>
<line x1="257.47" y1="10.64" x2="260.68" y2="9.72" stroke-width="0.9"/>
<line x1="260.68" y1="9.72" x2="261.95" y2="10.26" stroke-width="0.9"/>
<line x1="261.95" y1="10.26" x2="266.43" y2="11.03" stroke-width="0.9"/>
<line x1="266.43" y1="11.03" x2="267.55" y2="12.96" stroke-width="0.9"/>
<line x1="48.39" y1="16.51" x2="52.13" y2="17.51" stroke-width="0.8"/>
<line x1="52.13" y1="17.51" x2="54.74" y2="17.98" stroke-width="0.8"/>
<line x1="54.74" y1="17.98" x2="56.09" y2="18.67" stroke-width="0.8"/>
</g>
<g><circle cx="91.7" cy="31.4" r="1.6" fill="#e4536a"/><circle cx="94.3" cy="30.3" r="1.6" fill="#e4536a"/><circle cx="95.3" cy="33.4" r="1.6" fill="#f8875f"/><circle cx="97.9" cy="32.9" r="1.6" fill="#f8875f"/><circle cx="92.8" cy="37.1" r="1.6" fill="#b93a78"/><circle cx="93.3" cy="39.1" r="1.6" fill="#f8875f"/><circle cx="94.8" cy="39.7" r="1.6" fill="#fb9a6a"/><circle cx="99.0" cy="36.0" r="1.6" fill="#f8875f"/><circle cx="100.5" cy="35.5" r="1.6" fill="#f8875f"/><circle cx="103.1" cy="36.6" r="1.6" fill="#82267f"/><circle cx="104.1" cy="30.3" r="1.6" fill="#e4536a"/><circle cx="103.6" cy="32.9" r="1.6" fill="#f8875f"/><circle cx="108.8" cy="28.8" r="1.6" fill="#f8875f"/><circle cx="110.9" cy="28.3" r="1.6" fill="#b93a78"/><circle cx="108.3" cy="31.9" r="1.6" fill="#f8875f"/><circle cx="109.8" cy="33.4" r="1.6" fill="#fb9a6a"/><circle cx="111.9" cy="32.4" r="1.6" fill="#f8875f"/><circle cx="112.9" cy="30.3" r="1.6" fill="#f8875f"/><circle cx="114.5" cy="31.9" r="1.6" fill="#b93a78"/><circle cx="107.2" cy="37.1" r="1.6" fill="#f8875f"/><circle cx="110.3" cy="35.5" r="1.6" fill="#f8875f"/><circle cx="115.5" cy="35.5" r="1.6" fill="#f8875f"/><circle cx="117.1" cy="35.0" r="1.6" fill="#fb9a6a"/><circle cx="120.2" cy="34.5" r="1.6" fill="#f8875f"/><circle cx="122.2" cy="34.0" r="1.6" fill="#e4536a"/><circle cx="123.8" cy="34.5" r="1.6" fill="#f8875f"/><circle cx="125.3" cy="35.5" r="1.6" fill="#f8875f"/><circle cx="127.4" cy="34.5" r="1.6" fill="#f8875f"/><circle cx="129.0" cy="33.4" r="1.6" fill="#f8875f"/><circle cx="121.7" cy="36.6" r="1.6" fill="#f8875f"/><circle cx="124.3" cy="36.6" r="1.6" fill="#fb9a6a"/><circle cx="126.4" cy="36.6" r="1.6" fill="#f8875f"/><circle cx="97.9" cy="41.7" r="1.6" fill="#f8875f"/><circle cx="100.0" cy="40.7" r="1.6" fill="#b93a78"/><circle cx="96.4" cy="43.8" r="1.6" fill="#e4536a"/><circle cx="103.1" cy="43.3" r="1.6" fill="#b93a78"/><circle cx="100.5" cy="44.3" r="1.6" fill="#f8875f"/><circle cx="101.6" cy="47.4" r="1.6" fill="#e4536a"/><circle cx="102.1" cy="50.0" r="1.6" fill="#f8875f"/><circle cx="104.7" cy="50.5" r="1.6" fill="#f8875f"/><circle cx="104.1" cy="52.6" r="1.6" fill="#f8875f"/><circle cx="107.2" cy="53.6" r="1.6" fill="#e4536a"/><circle cx="108.8" cy="55.7" r="1.6" fill="#f8875f"/><circle cx="111.9" cy="55.7" r="1.6" fill="#f8875f"/><circle cx="115.0" cy="56.7" r="1.6" fill="#82267f"/><circle cx="118.1" cy="57.8" r="1.6" fill="#e4536a"/><circle cx="120.2" cy="58.3" r="1.6" fill="#f8875f"/><circle cx="108.3" cy="47.4" r="1.6" fill="#f8875f"/><circle cx="108.3" cy="49.0" r="1.6" fill="#fb9a6a"/><circle cx="110.3" cy="46.4" r="1.6" fill="#f8875f"/><circle cx="110.9" cy="44.8" r="1.6" fill="#f8875f"/><circle cx="113.4" cy="42.2" r="1.6" fill="#b93a78"/><circle cx="114.5" cy="46.4" r="1.6" fill="#f8875f"/><circle cx="112.9" cy="47.9" r="1.6" fill="#f8875f"/><circle cx="116.0" cy="46.4" r="1.6" fill="#fb9a6a"/><circle cx="117.6" cy="41.2" r="1.6" fill="#f8875f"/><circle cx="120.7" cy="43.3" r="1.6" fill="#b93a78"/><circle cx="121.2" cy="45.9" r="1.6" fill="#f8875f"/><circle cx="123.3" cy="44.3" r="1.6" fill="#e4536a"/><circle cx="124.3" cy="41.2" r="1.6" fill="#f8875f"/><circle cx="122.8" cy="48.4" r="1.6" fill="#f8875f"/><circle cx="122.2" cy="50.0" r="1.6" fill="#f8875f"/><circle cx="125.3" cy="53.6" r="1.6" fill="#f8875f"/><circle cx="127.9" cy="53.1" r="1.6" fill="#b93a78"/><circle cx="129.5" cy="55.2" r="1.6" fill="#f8875f"/><circle cx="105.5" cy="53.1" r="1.6" fill="#f8875f"/><circle cx="108.1" cy="54.1" r="1.6" fill="#e4536a"/><circle cx="109.7" cy="52.1" r="1.6" fill="#f8875f"/><circle cx="111.2" cy="55.2" r="1.6" fill="#f8875f"/><circle cx="112.8" cy="55.7" r="1.6" fill="#f8875f"/><circle cx="114.8" cy="57.8" r="1.6" fill="#82267f"/><circle cx="116.4" cy="56.7" r="1.6" fill="#e4536a"/><circle cx="117.4" cy="58.3" r="1.6" fill="#f8875f"/><circle cx="119.0" cy="59.8" r="1.6" fill="#f8875f"/><circle cx="121.0" cy="58.3" r="1.6" fill="#f8875f"/><circle cx="109.1" cy="56.2" r="1.6" fill="#f8875f"/><circle cx="123.1" cy="50.5" r="1.6" fill="#f8875f"/><circle cx="125.7" cy="52.6" r="1.6" fill="#f8875f"/><circle cx="128.3" cy="52.6" r="1.6" fill="#b93a78"/><circle cx="129.3" cy="54.7" r="1.6" fill="#f8875f"/><circle cx="127.2" cy="60.9" r="1.6" fill="#f8875f"/><circle cx="129.3" cy="60.3" r="1.6" fill="#e4536a"/><circle cx="132.4" cy="61.4" r="1.6" fill="#f8875f"/><circle cx="133.4" cy="61.9" r="1.6" fill="#f8875f"/><circle cx="136.0" cy="63.4" r="1.6" fill="#b93a78"/><circle cx="141.7" cy="65.5" r="1.6" fill="#f8875f"/><circle cx="134.5" cy="71.7" r="1.6" fill="#82267f"/><circle cx="136.0" cy="72.2" r="1.6" fill="#e4536a"/><circle cx="138.1" cy="71.7" r="1.6" fill="#e4536a"/><circle cx="140.2" cy="71.2" r="1.6" fill="#f8875f"/><circle cx="141.7" cy="71.2" r="1.6" fill="#b93a78"/><circle cx="143.3" cy="70.7" r="1.6" fill="#b93a78"/><circle cx="144.8" cy="70.2" r="1.6" fill="#b93a78"/><circle cx="153.6" cy="74.3" r="1.6" fill="#e4536a"/><circle cx="126.2" cy="77.7" r="1.6" fill="#e4536a"/><circle cx="129.8" cy="80.0" r="1.6" fill="#b93a78"/><circle cx="131.4" cy="80.5" r="1.6" fill="#e4536a"/><circle cx="132.9" cy="79.5" r="1.6" fill="#82267f"/><circle cx="140.2" cy="83.1" r="1.6" fill="#f8875f"/><circle cx="148.4" cy="83.6" r="1.6" fill="#f8875f"/><circle cx="147.4" cy="85.7" r="1.6" fill="#e4536a"/><circle cx="146.4" cy="86.7" r="1.6" fill="#f8875f"/><circle cx="152.1" cy="86.2" r="1.6" fill="#b93a78"/><circle cx="145.9" cy="87.8" r="1.6" fill="#f8875f"/><circle cx="149.5" cy="84.7" r="1.6" fill="#f8875f"/><circle cx="133.1" cy="80.5" r="1.6" fill="#82267f"/><circle cx="139.9" cy="82.7" r="1.6" fill="#f8875f"/><circle cx="147.5" cy="85.0" r="1.6" fill="#e4536a"/><circle cx="148.9" cy="84.1" r="1.6" fill="#e4536a"/><circle cx="146.2" cy="86.8" r="1.6" fill="#f8875f"/><circle cx="151.6" cy="86.3" r="1.6" fill="#b93a78"/><circle cx="140.3" cy="90.4" r="1.6" fill="#e4536a"/><circle cx="136.7" cy="93.1" r="1.6" fill="#f8875f"/><circle cx="140.8" cy="94.0" r="1.6" fill="#b93a78"/><circle cx="143.5" cy="94.5" r="1.6" fill="#f8875f"/><circle cx="145.3" cy="91.8" r="1.6" fill="#e4536a"/><circle cx="131.7" cy="96.1" r="1.6" fill="#b93a78"/><circle cx="129.0" cy="99.4" r="1.6" fill="#f8875f"/><circle cx="129.0" cy="100.8" r="1.6" fill="#e4536a"/><circle cx="190.9" cy="22.4" r="1.6" fill="#e4536a"/><circle cx="192.9" cy="23.4" r="1.6" fill="#e4536a"/><circle cx="195.0" cy="24.5" r="1.6" fill="#e4536a"/><circle cx="199.1" cy="21.9" r="1.6" fill="#e4536a"/><circle cx="201.7" cy="24.5" r="1.6" fill="#f8875f"/><circle cx="203.8" cy="23.4" r="1.6" fill="#82267f"/><circle cx="205.9" cy="22.9" r="1.6" fill="#b93a78"/><circle cx="209.0" cy="21.9" r="1.6" fill="#82267f"/><circle cx="212.1" cy="23.4" r="1.6" fill="#e4536a"/><circle cx="214.1" cy="25.0" r="1.6" fill="#e4536a"/><circle cx="216.7" cy="26.0" r="1.6" fill="#e4536a"/><circle cx="223.4" cy="25.0" r="1.6" fill="#e4536a"/><circle cx="177.9" cy="27.6" r="1.6" fill="#e4536a"/><circle cx="180.5" cy="32.2" r="1.6" fill="#f8875f"/><circle cx="192.9" cy="28.1" r="1.6" fill="#f8875f"/><circle cx="196.0" cy="29.1" r="1.6" fill="#f8875f"/><circle cx="199.1" cy="28.1" r="1.6" fill="#f8875f"/><circle cx="202.2" cy="25.5" r="1.6" fill="#f8875f"/><circle cx="205.9" cy="26.0" r="1.6" fill="#b93a78"/><circle cx="186.7" cy="33.3" r="1.6" fill="#f8875f"/><circle cx="189.3" cy="32.8" r="1.6" fill="#f8875f"/><circle cx="191.9" cy="33.3" r="1.6" fill="#f8875f"/><circle cx="195.5" cy="32.8" r="1.6" fill="#f8875f"/><circle cx="191.9" cy="35.9" r="1.6" fill="#f8875f"/><circle cx="198.1" cy="36.9" r="1.6" fill="#f8875f"/><circle cx="200.2" cy="37.9" r="1.6" fill="#f8875f"/><circle cx="204.8" cy="32.8" r="1.6" fill="#b93a78"/><circle cx="206.9" cy="31.7" r="1.6" fill="#f8875f"/><circle cx="207.9" cy="34.3" r="1.6" fill="#f8875f"/><circle cx="210.5" cy="33.8" r="1.6" fill="#f8875f"/><circle cx="213.1" cy="32.8" r="1.6" fill="#f8875f"/><circle cx="215.7" cy="33.8" r="1.6" fill="#f8875f"/><circle cx="218.8" cy="29.7" r="1.6" fill="#e4536a"/><circle cx="217.2" cy="31.7" r="1.6" fill="#82267f"/><circle cx="219.3" cy="34.8" r="1.6" fill="#f8875f"/><circle cx="220.9" cy="30.7" r="1.6" fill="#f8875f"/><circle cx="179.0" cy="36.4" r="1.6" fill="#f8875f"/><circle cx="181.6" cy="34.8" r="1.6" fill="#f8875f"/><circle cx="178.4" cy="39.0" r="1.6" fill="#f8875f"/><circle cx="185.7" cy="35.9" r="1.6" fill="#e4536a"/><circle cx="189.8" cy="41.0" r="1.6" fill="#e4536a"/><circle cx="204.3" cy="39.0" r="1.6" fill="#f8875f"/><circle cx="206.4" cy="37.9" r="1.6" fill="#f8875f"/><circle cx="208.4" cy="40.5" r="1.6" fill="#f8875f"/><circle cx="210.5" cy="40.0" r="1.6" fill="#f8875f"/><circle cx="214.7" cy="39.0" r="1.6" fill="#f8875f"/><circle cx="216.7" cy="41.0" r="1.6" fill="#e4536a"/><circle cx="215.7" cy="43.1" r="1.6" fill="#e4536a"/><circle cx="217.8" cy="44.1" r="1.6" fill="#e4536a"/><circle cx="204.8" cy="45.7" r="1.6" fill="#f8875f"/><circle cx="209.5" cy="45.7" r="1.6" fill="#e4536a"/><circle cx="205.9" cy="41.0" r="1.6" fill="#f8875f"/><circle cx="201.7" cy="41.0" r="1.6" fill="#f8875f"/><circle cx="223.6" cy="24.5" r="1.6" fill="#e4536a"/><circle cx="221.0" cy="30.7" r="1.6" fill="#f8875f"/><circle cx="226.2" cy="29.1" r="1.6" fill="#f8875f"/><circle cx="228.3" cy="26.6" r="1.6" fill="#f8875f"/><circle cx="230.3" cy="28.1" r="1.6" fill="#f8875f"/><circle cx="232.9" cy="29.1" r="1.6" fill="#f8875f"/><circle cx="235.0" cy="27.6" r="1.6" fill="#b93a78"/><circle cx="233.4" cy="30.7" r="1.6" fill="#e4536a"/><circle cx="236.6" cy="28.6" r="1.6" fill="#f8875f"/><circle cx="239.1" cy="29.7" r="1.6" fill="#82267f"/><circle cx="240.7" cy="27.6" r="1.6" fill="#f8875f"/><circle cx="243.3" cy="27.6" r="1.6" fill="#f8875f"/><circle cx="242.2" cy="29.1" r="1.6" fill="#f8875f"/><circle cx="249.5" cy="26.6" r="1.6" fill="#fb9a6a"/><circle cx="229.3" cy="32.2" r="1.6" fill="#e4536a"/><circle cx="227.8" cy="33.8" r="1.6" fill="#e4536a"/><circle cx="231.4" cy="35.3" r="1.6" fill="#f8875f"/><circle cx="235.0" cy="36.4" r="1.6" fill="#f8875f"/><circle cx="238.6" cy="33.8" r="1.6" fill="#e4536a"/><circle cx="239.7" cy="35.9" r="1.6" fill="#e4536a"/><circle cx="242.8" cy="33.3" r="1.6" fill="#f8875f"/><circle cx="244.3" cy="34.8" r="1.6" fill="#e4536a"/><circle cx="246.9" cy="32.2" r="1.6" fill="#f8875f"/><circle cx="247.4" cy="36.9" r="1.6" fill="#f8875f"/><circle cx="251.0" cy="32.2" r="1.6" fill="#e4536a"/><circle cx="251.6" cy="35.9" r="1.6" fill="#82267f"/><circle cx="256.2" cy="34.3" r="1.6" fill="#e4536a"/><circle cx="262.4" cy="28.1" r="1.6" fill="#e4536a"/><circle cx="261.4" cy="30.2" r="1.6" fill="#f8875f"/><circle cx="268.6" cy="31.7" r="1.6" fill="#f8875f"/><circle cx="269.7" cy="35.9" r="1.6" fill="#f8875f"/><circle cx="263.4" cy="37.9" r="1.6" fill="#b93a78"/><circle cx="266.5" cy="40.0" r="1.6" fill="#f8875f"/><circle cx="274.8" cy="34.3" r="1.6" fill="#e4536a"/><circle cx="276.9" cy="35.9" r="1.6" fill="#e4536a"/><circle cx="278.4" cy="37.4" r="1.6" fill="#e4536a"/><circle cx="276.4" cy="37.9" r="1.6" fill="#f8875f"/><circle cx="232.4" cy="38.4" r="1.6" fill="#f8875f"/><circle cx="228.3" cy="41.0" r="1.6" fill="#e4536a"/><circle cx="232.9" cy="40.5" r="1.6" fill="#f8875f"/><circle cx="239.1" cy="37.9" r="1.6" fill="#b93a78"/><circle cx="240.7" cy="44.1" r="1.6" fill="#b93a78"/><circle cx="239.1" cy="45.2" r="1.6" fill="#f8875f"/><circle cx="243.3" cy="46.2" r="1.6" fill="#b93a78"/><circle cx="246.4" cy="47.2" r="1.6" fill="#b93a78"/><circle cx="266.0" cy="44.1" r="1.6" fill="#e4536a"/><circle cx="268.6" cy="43.1" r="1.6" fill="#f8875f"/><circle cx="270.7" cy="45.2" r="1.6" fill="#f8875f"/><circle cx="266.5" cy="47.2" r="1.6" fill="#f8875f"/><circle cx="271.7" cy="47.2" r="1.6" fill="#f8875f"/><circle cx="232.9" cy="48.8" r="1.6" fill="#e4536a"/><circle cx="256.7" cy="48.8" r="1.6" fill="#f8875f"/><circle cx="260.3" cy="49.3" r="1.6" fill="#f8875f"/><circle cx="261.6" cy="29.7" r="1.6" fill="#f8875f"/><circle cx="268.8" cy="31.7" r="1.6" fill="#f8875f"/><circle cx="270.3" cy="32.2" r="1.6" fill="#f8875f"/><circle cx="284.3" cy="30.7" r="1.6" fill="#b93a78"/><circle cx="274.5" cy="34.3" r="1.6" fill="#e4536a"/><circle cx="276.6" cy="35.3" r="1.6" fill="#e4536a"/><circle cx="278.6" cy="35.3" r="1.6" fill="#e4536a"/><circle cx="281.2" cy="34.8" r="1.6" fill="#e4536a"/><circle cx="263.6" cy="37.4" r="1.6" fill="#b93a78"/><circle cx="266.7" cy="38.4" r="1.6" fill="#f8875f"/><circle cx="269.3" cy="37.4" r="1.6" fill="#e4536a"/><circle cx="275.5" cy="37.9" r="1.6" fill="#e4536a"/><circle cx="276.0" cy="39.5" r="1.6" fill="#e4536a"/><circle cx="266.2" cy="43.6" r="1.6" fill="#e4536a"/><circle cx="267.8" cy="41.6" r="1.6" fill="#f8875f"/><circle cx="269.8" cy="43.6" r="1.6" fill="#e4536a"/><circle cx="272.4" cy="44.7" r="1.6" fill="#f8875f"/><circle cx="266.2" cy="46.7" r="1.6" fill="#f8875f"/><circle cx="268.8" cy="46.2" r="1.6" fill="#fb9a6a"/><circle cx="271.4" cy="46.7" r="1.6" fill="#f8875f"/><circle cx="267.8" cy="50.9" r="1.6" fill="#e4536a"/><circle cx="272.4" cy="58.1" r="1.6" fill="#f8875f"/><circle cx="281.2" cy="42.1" r="1.6" fill="#f8875f"/><circle cx="283.8" cy="42.1" r="1.6" fill="#e4536a"/><circle cx="286.9" cy="41.6" r="1.6" fill="#e4536a"/><circle cx="287.4" cy="39.5" r="1.6" fill="#e4536a"/><circle cx="287.4" cy="36.9" r="1.6" fill="#e4536a"/><circle cx="290.0" cy="35.9" r="1.6" fill="#e4536a"/><circle cx="286.4" cy="38.4" r="1.6" fill="#e4536a"/><circle cx="261.0" cy="57.1" r="1.6" fill="#b93a78"/><circle cx="262.1" cy="59.1" r="1.6" fill="#e4536a"/><circle cx="274.5" cy="61.7" r="1.6" fill="#82267f"/><circle cx="241.0" cy="44.1" r="1.6" fill="#b93a78"/><circle cx="239.5" cy="45.2" r="1.6" fill="#f8875f"/><circle cx="243.1" cy="45.7" r="1.6" fill="#e4536a"/><circle cx="246.2" cy="47.2" r="1.6" fill="#b93a78"/><circle cx="232.8" cy="48.8" r="1.6" fill="#b93a78"/><circle cx="233.8" cy="50.3" r="1.6" fill="#fb9a6a"/><circle cx="238.4" cy="50.3" r="1.6" fill="#e4536a"/><circle cx="244.1" cy="50.3" r="1.6" fill="#fb9a6a"/><circle cx="244.7" cy="52.4" r="1.6" fill="#fb9a6a"/><circle cx="247.2" cy="50.9" r="1.6" fill="#e4536a"/><circle cx="250.9" cy="51.9" r="1.6" fill="#e4536a"/><circle cx="254.0" cy="49.8" r="1.6" fill="#e4536a"/><circle cx="257.1" cy="49.3" r="1.6" fill="#fb9a6a"/><circle cx="259.1" cy="50.3" r="1.6" fill="#e4536a"/><circle cx="254.5" cy="55.5" r="1.6" fill="#82267f"/><circle cx="259.1" cy="56.0" r="1.6" fill="#e4536a"/><circle cx="260.7" cy="56.6" r="1.6" fill="#e4536a"/><circle cx="260.2" cy="59.1" r="1.6" fill="#e4536a"/><circle cx="239.0" cy="57.6" r="1.6" fill="#e4536a"/><circle cx="239.5" cy="59.1" r="1.6" fill="#e4536a"/><circle cx="240.5" cy="60.7" r="1.6" fill="#e4536a"/><circle cx="266.4" cy="44.1" r="1.6" fill="#e4536a"/><circle cx="268.4" cy="43.1" r="1.6" fill="#fb9a6a"/><circle cx="267.4" cy="46.2" r="1.6" fill="#fb9a6a"/><circle cx="270.5" cy="44.1" r="1.6" fill="#fb9a6a"/><circle cx="270.5" cy="46.2" r="1.6" fill="#fb9a6a"/><circle cx="272.6" cy="45.2" r="1.6" fill="#fb9a6a"/><circle cx="267.4" cy="50.9" r="1.6" fill="#e4536a"/><circle cx="272.6" cy="58.6" r="1.6" fill="#fb9a6a"/><circle cx="274.7" cy="63.3" r="1.6" fill="#82267f"/><circle cx="269.0" cy="69.5" r="1.6" fill="#82267f"/><circle cx="272.6" cy="71.6" r="1.6" fill="#82267f"/><circle cx="271.5" cy="72.1" r="1.6" fill="#b93a78"/><circle cx="281.9" cy="42.1" r="1.6" fill="#fb9a6a"/><circle cx="284.5" cy="41.6" r="1.6" fill="#fb9a6a"/><circle cx="199.1" cy="40.5" r="1.6" fill="#f8875f"/><circle cx="204.3" cy="41.0" r="1.6" fill="#f8875f"/><circle cx="206.4" cy="42.1" r="1.6" fill="#fb9a6a"/><circle cx="209.5" cy="41.6" r="1.6" fill="#fb9a6a"/><circle cx="204.8" cy="45.7" r="1.6" fill="#fb9a6a"/><circle cx="207.4" cy="45.2" r="1.6" fill="#e4536a"/><circle cx="214.7" cy="43.1" r="1.6" fill="#e4536a"/><circle cx="216.7" cy="42.6" r="1.6" fill="#e4536a"/><circle cx="218.8" cy="44.1" r="1.6" fill="#e4536a"/><circle cx="206.9" cy="51.4" r="1.6" fill="#e4536a"/><circle cx="171.2" cy="56.6" r="1.6" fill="#e4536a"/><circle cx="179.5" cy="57.1" r="1.6" fill="#e4536a"/><circle cx="193.4" cy="59.1" r="1.6" fill="#e4536a"/><circle cx="197.1" cy="61.2" r="1.6" fill="#82267f"/><circle cx="185.7" cy="62.2" r="1.6" fill="#e4536a"/><circle cx="184.1" cy="63.8" r="1.6" fill="#e4536a"/><circle cx="182.1" cy="64.3" r="1.6" fill="#f8875f"/><circle cx="192.4" cy="64.3" r="1.6" fill="#e4536a"/><circle cx="208.4" cy="58.6" r="1.6" fill="#e4536a"/><circle cx="210.0" cy="58.1" r="1.6" fill="#e4536a"/><circle cx="212.6" cy="58.1" r="1.6" fill="#b93a78"/><circle cx="213.6" cy="60.2" r="1.6" fill="#b93a78"/><circle cx="211.0" cy="60.7" r="1.6" fill="#e4536a"/><circle cx="209.0" cy="60.2" r="1.6" fill="#e4536a"/><circle cx="210.5" cy="63.8" r="1.6" fill="#fb9a6a"/><circle cx="212.1" cy="62.2" r="1.6" fill="#e4536a"/><circle cx="204.8" cy="68.4" r="1.6" fill="#f8875f"/><circle cx="207.4" cy="67.9" r="1.6" fill="#f8875f"/><circle cx="209.5" cy="67.4" r="1.6" fill="#f8875f"/><circle cx="205.9" cy="70.5" r="1.6" fill="#b93a78"/><circle cx="210.5" cy="70.5" r="1.6" fill="#f8875f"/><circle cx="204.3" cy="72.1" r="1.6" fill="#b93a78"/><circle cx="204.8" cy="74.1" r="1.6" fill="#b93a78"/><circle cx="202.2" cy="75.7" r="1.6" fill="#f8875f"/><circle cx="203.8" cy="76.7" r="1.6" fill="#f8875f"/><circle cx="208.4" cy="77.8" r="1.6" fill="#e4536a"/><circle cx="210.5" cy="71.6" r="1.6" fill="#f8875f"/><circle cx="205.0" cy="71.0" r="1.6" fill="#e4536a"/><circle cx="210.2" cy="71.6" r="1.6" fill="#f8875f"/><circle cx="204.5" cy="74.1" r="1.6" fill="#b93a78"/><circle cx="201.9" cy="76.2" r="1.6" fill="#f8875f"/><circle cx="204.0" cy="77.8" r="1.6" fill="#f8875f"/><circle cx="208.1" cy="78.3" r="1.6" fill="#e4536a"/><circle cx="209.1" cy="80.3" r="1.6" fill="#e4536a"/><circle cx="205.0" cy="80.9" r="1.6" fill="#fb9a6a"/><circle cx="203.4" cy="82.4" r="1.6" fill="#f8875f"/><circle cx="206.0" cy="84.0" r="1.6" fill="#e4536a"/><circle cx="208.1" cy="85.5" r="1.6" fill="#e4536a"/><circle cx="208.6" cy="88.1" r="1.6" fill="#f8875f"/><circle cx="206.6" cy="90.2" r="1.6" fill="#f8875f"/><circle cx="203.4" cy="90.2" r="1.6" fill="#e4536a"/><circle cx="201.4" cy="92.2" r="1.6" fill="#b93a78"/><circle cx="202.4" cy="91.2" r="1.6" fill="#e4536a"/><circle cx="216.9" cy="81.9" r="1.6" fill="#f8875f"/><circle cx="219.0" cy="82.9" r="1.6" fill="#b93a78"/><circle cx="215.3" cy="86.0" r="1.6" fill="#b93a78"/><circle cx="275.0" cy="62.8" r="1.6" fill="#82267f"/><circle cx="269.3" cy="69.2" r="1.6" fill="#82267f"/><circle cx="272.1" cy="70.7" r="1.6" fill="#82267f"/><circle cx="272.8" cy="72.8" r="1.6" fill="#4a1172"/><circle cx="287.7" cy="74.2" r="1.6" fill="#b93a78"/><circle cx="288.5" cy="72.8" r="1.6" fill="#f8875f"/><circle cx="277.8" cy="82.0" r="1.6" fill="#fb9a6a"/><circle cx="293.4" cy="94.1" r="1.6" fill="#b93a78"/><circle cx="292.7" cy="97.0" r="1.6" fill="#e4536a"/><circle cx="290.6" cy="98.4" r="1.6" fill="#e4536a"/><circle cx="286.3" cy="97.0" r="1.6" fill="#fb9a6a"/><circle cx="289.2" cy="99.1" r="1.6" fill="#f8875f"/><circle cx="291.3" cy="101.9" r="1.6" fill="#f8875f"/><circle cx="312.6" cy="100.5" r="1.6" fill="#f8875f"/><circle cx="195.8" cy="33.1" r="1.6" fill="#f8875f"/><circle cx="198.1" cy="37.8" r="1.6" fill="#f8875f"/><circle cx="199.7" cy="39.7" r="1.6" fill="#f8875f"/><circle cx="205.1" cy="33.5" r="1.6" fill="#b93a78"/><circle cx="207.4" cy="33.1" r="1.6" fill="#f8875f"/><circle cx="209.7" cy="33.9" r="1.6" fill="#fb9a6a"/><circle cx="212.1" cy="33.1" r="1.6" fill="#fb9a6a"/><circle cx="214.4" cy="33.9" r="1.6" fill="#fb9a6a"/><circle cx="217.5" cy="31.6" r="1.6" fill="#82267f"/><circle cx="218.3" cy="34.7" r="1.6" fill="#fb9a6a"/><circle cx="216.7" cy="37.8" r="1.6" fill="#fb9a6a"/><circle cx="203.5" cy="38.5" r="1.6" fill="#fb9a6a"/><circle cx="205.5" cy="39.3" r="1.6" fill="#f8875f"/><circle cx="207.4" cy="40.1" r="1.6" fill="#fb9a6a"/><circle cx="209.0" cy="41.6" r="1.6" fill="#f8875f"/><circle cx="205.1" cy="45.5" r="1.6" fill="#fb9a6a"/><circle cx="207.0" cy="45.9" r="1.6" fill="#e4536a"/><circle cx="209.3" cy="44.3" r="1.6" fill="#e4536a"/><circle cx="207.0" cy="51.3" r="1.6" fill="#e4536a"/><circle cx="212.1" cy="39.7" r="1.6" fill="#fb9a6a"/><circle cx="215.2" cy="39.3" r="1.6" fill="#fb9a6a"/><circle cx="215.5" cy="42.4" r="1.6" fill="#e4536a"/><circle cx="214.8" cy="43.6" r="1.6" fill="#e4536a"/><circle cx="218.3" cy="44.3" r="1.6" fill="#e4536a"/><circle cx="227.6" cy="33.9" r="1.6" fill="#e4536a"/><circle cx="229.1" cy="33.1" r="1.6" fill="#e4536a"/><circle cx="228.3" cy="40.9" r="1.6" fill="#e4536a"/><circle cx="231.4" cy="38.1" r="1.6" fill="#fb9a6a"/><circle cx="233.0" cy="39.3" r="1.6" fill="#fb9a6a"/><circle cx="234.5" cy="37.0" r="1.6" fill="#fb9a6a"/><circle cx="236.1" cy="37.8" r="1.6" fill="#e4536a"/><circle cx="239.2" cy="32.3" r="1.6" fill="#e4536a"/><circle cx="239.6" cy="30.4" r="1.6" fill="#82267f"/><circle cx="238.4" cy="35.4" r="1.6" fill="#e4536a"/><circle cx="241.5" cy="33.1" r="1.6" fill="#e4536a"/><circle cx="243.1" cy="35.0" r="1.6" fill="#b93a78"/><circle cx="233.0" cy="49.0" r="1.6" fill="#b93a78"/><circle cx="233.4" cy="50.5" r="1.6" fill="#fb9a6a"/><circle cx="238.4" cy="50.2" r="1.6" fill="#e4536a"/><circle cx="241.5" cy="44.3" r="1.6" fill="#82267f"/><circle cx="243.4" cy="45.9" r="1.6" fill="#e4536a"/><circle cx="239.2" cy="57.5" r="1.6" fill="#e4536a"/><circle cx="209.0" cy="58.7" r="1.6" fill="#e4536a"/><circle cx="212.8" cy="58.3" r="1.6" fill="#82267f"/><circle cx="243.8" cy="50.5" r="1.6" fill="#fb9a6a"/><circle cx="98.9" cy="36.4" r="1.6" fill="#e4536a"/><circle cx="99.9" cy="35.1" r="1.6" fill="#f8875f"/><circle cx="93.2" cy="33.3" r="1.6" fill="#f8875f"/><circle cx="95.8" cy="31.7" r="1.6" fill="#f8875f"/><circle cx="107.1" cy="31.7" r="1.6" fill="#f8875f"/><circle cx="107.7" cy="37.4" r="1.6" fill="#f8875f"/><circle cx="109.7" cy="35.3" r="1.6" fill="#f8875f"/><circle cx="111.3" cy="34.3" r="1.6" fill="#fb9a6a"/><circle cx="112.3" cy="31.2" r="1.6" fill="#f8875f"/><circle cx="109.0" cy="29.1" r="1.6" fill="#fb9a6a"/><circle cx="103.5" cy="32.8" r="1.6" fill="#f8875f"/><circle cx="94.2" cy="40.5" r="1.6" fill="#fb9a6a"/><circle cx="97.3" cy="42.1" r="1.6" fill="#f8875f"/><circle cx="98.3" cy="43.4" r="1.6" fill="#e4536a"/><circle cx="100.9" cy="43.1" r="1.6" fill="#f8875f"/><circle cx="110.8" cy="43.1" r="1.6" fill="#f8875f"/><circle cx="117.0" cy="41.0" r="1.6" fill="#f8875f"/><circle cx="105.5" cy="41.5" r="1.6" fill="#f8875f"/><circle cx="106.5" cy="44.5" r="1.6" fill="#f8875f"/><circle cx="104.0" cy="45.5" r="1.6" fill="#e4536a"/><circle cx="111.0" cy="39.5" r="1.6" fill="#f8875f"/><circle cx="113.5" cy="38.5" r="1.6" fill="#f8875f"/><circle cx="118.5" cy="38.5" r="1.6" fill="#f8875f"/><circle cx="116.0" cy="44.5" r="1.6" fill="#f8875f"/><circle cx="70.7" cy="23.2" r="1.6" fill="#f8875f"/></g>
<defs><linearGradient id="mg" x1="0" x2="1" y1="0" y2="0"><stop offset="0.0" stop-color="#000004"/><stop offset="0.1" stop-color="#140e36"/><stop offset="0.2" stop-color="#3b0f70"/><stop offset="0.3" stop-color="#641a80"/><stop offset="0.4" stop-color="#8c2981"/><stop offset="0.5" stop-color="#b73779"/><stop offset="0.6" stop-color="#de4968"/><stop offset="0.7" stop-color="#f7705c"/><stop offset="0.8" stop-color="#fe9f6d"/><stop offset="0.9" stop-color="#fecf92"/><stop offset="1.0" stop-color="#fcfdbf"/></linearGradient></defs>
<rect x="200.4" y="147.5" width="94.8" height="19" fill="url(#mg)"/>
<line x1="201.00" y1="147.5" x2="201.00" y2="150.6" stroke="#fff" stroke-width="0.8"/>
<line x1="201.00" y1="163.4" x2="201.00" y2="166.5" stroke="#fff" stroke-width="0.8"/>
<text transform="translate(201.00 180.50) scale(1 1.0)" font-size="9.7" text-anchor="middle" fill="#111" color="#111" style="stroke-width:0.1px" >−4</text>
<line x1="216.57" y1="147.5" x2="216.57" y2="150.6" stroke="#fff" stroke-width="0.8"/>
<line x1="216.57" y1="163.4" x2="216.57" y2="166.5" stroke="#fff" stroke-width="0.8"/>
<text transform="translate(216.57 180.50) scale(1 1.0)" font-size="9.7" text-anchor="middle" fill="#111" color="#111" style="stroke-width:0.1px" >−3</text>
<line x1="232.14" y1="147.5" x2="232.14" y2="150.6" stroke="#fff" stroke-width="0.8"/>
<line x1="232.14" y1="163.4" x2="232.14" y2="166.5" stroke="#fff" stroke-width="0.8"/>
<text transform="translate(232.14 180.50) scale(1 1.0)" font-size="9.7" text-anchor="middle" fill="#111" color="#111" style="stroke-width:0.1px" >−2</text>
<line x1="247.71" y1="147.5" x2="247.71" y2="150.6" stroke="#fff" stroke-width="0.8"/>
<line x1="247.71" y1="163.4" x2="247.71" y2="166.5" stroke="#fff" stroke-width="0.8"/>
<text transform="translate(247.71 180.50) scale(1 1.0)" font-size="9.7" text-anchor="middle" fill="#111" color="#111" style="stroke-width:0.1px" >−1</text>
<line x1="263.28" y1="147.5" x2="263.28" y2="150.6" stroke="#fff" stroke-width="0.8"/>
<line x1="263.28" y1="163.4" x2="263.28" y2="166.5" stroke="#fff" stroke-width="0.8"/>
<text transform="translate(263.28 180.50) scale(1 1.0)" font-size="9.7" text-anchor="middle" fill="#111" color="#111" style="stroke-width:0.1px" >0</text>
<line x1="278.85" y1="147.5" x2="278.85" y2="150.6" stroke="#fff" stroke-width="0.8"/>
<line x1="278.85" y1="163.4" x2="278.85" y2="166.5" stroke="#fff" stroke-width="0.8"/>
<text transform="translate(278.85 180.50) scale(1 1.0)" font-size="9.7" text-anchor="middle" fill="#111" color="#111" style="stroke-width:0.1px" >1</text>
<line x1="294.42" y1="147.5" x2="294.42" y2="150.6" stroke="#fff" stroke-width="0.8"/>
<line x1="294.42" y1="163.4" x2="294.42" y2="166.5" stroke="#fff" stroke-width="0.8"/>
<text transform="translate(294.42 180.50) scale(1 1.0)" font-size="9.7" text-anchor="middle" fill="#111" color="#111" style="stroke-width:0.1px" >2</text>
<text x="71.3" y="167.6" font-size="11.9" fill="#111">log<tspan font-size="8.3" dy="2.6">10</tspan><tspan dy="-2.6">(Bloom frequency)</tspan></text>
<text transform="translate(43.60 27.28) scale(1 1.0)" font-size="9.7" text-anchor="end" fill="#111" color="#111" style="stroke-width:0.1px" >60°N</text>
<text transform="translate(43.60 50.44) scale(1 1.0)" font-size="9.7" text-anchor="end" fill="#111" color="#111" style="stroke-width:0.1px" >30°N</text>
<text transform="translate(43.60 73.60) scale(1 1.0)" font-size="9.7" text-anchor="end" fill="#111" color="#111" style="stroke-width:0.1px" >0°</text>
<text transform="translate(43.60 96.76) scale(1 1.0)" font-size="9.7" text-anchor="end" fill="#111" color="#111" style="stroke-width:0.1px" >30°S</text>
<text transform="translate(43.60 119.92) scale(1 1.0)" font-size="9.7" text-anchor="end" fill="#111" color="#111" style="stroke-width:0.1px" >60°S</text>
<text transform="translate(93.20 128.30) scale(1 1.0)" font-size="9.7" text-anchor="middle" fill="#111" color="#111" style="stroke-width:0.1px" >120°W</text>
<text transform="translate(138.00 128.30) scale(1 1.0)" font-size="9.7" text-anchor="middle" fill="#111" color="#111" style="stroke-width:0.1px" >60°W</text>
<text transform="translate(182.80 128.30) scale(1 1.0)" font-size="9.7" text-anchor="middle" fill="#111" color="#111" style="stroke-width:0.1px" >0°</text>
<text transform="translate(227.60 128.30) scale(1 1.0)" font-size="9.7" text-anchor="middle" fill="#111" color="#111" style="stroke-width:0.1px" >60°E</text>
<text transform="translate(272.40 128.30) scale(1 1.0)" font-size="9.7" text-anchor="middle" fill="#111" color="#111" style="stroke-width:0.1px" >120°E</text>
<text x="-0.90" y="10.90" font-size="16" text-anchor="start" fill="#000" color="#000" font-weight="bold" >a</text>
<text x="346.90" y="10.70" font-size="16" text-anchor="start" fill="#000" color="#000" font-weight="bold" >b</text>
<text x="-0.60" y="210.00" font-size="16" text-anchor="start" fill="#000" color="#000" font-weight="bold" >c</text>
</svg></body></html>
